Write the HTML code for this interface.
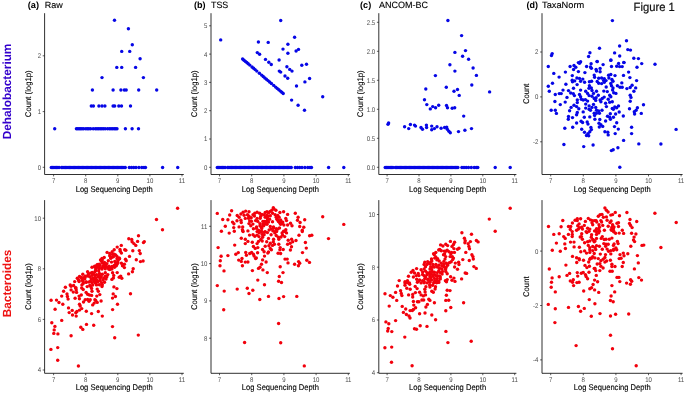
<!DOCTYPE html>
<html lang="en">
<head>
<meta charset="utf-8">
<title>Figure 1</title>
<style>
html,body{margin:0;padding:0;background:#fff;}
svg{display:block;}
text{font-family:"Liberation Sans",Arial,Helvetica,sans-serif;text-rendering:geometricPrecision;}
.tk{font-size:6.8px;fill:#4d4d4d;}
.at{font-size:8.2px;fill:#000;stroke:#000;stroke-width:0.12px;}
.tb{font-size:9.1px;font-weight:bold;fill:#000;}
.tn{font-size:9.1px;fill:#000;stroke:#000;stroke-width:0.12px;}
.fig{font-size:11.9px;fill:#111;stroke:#111;stroke-width:0.2px;}
.rl{font-size:11.8px;font-weight:bold;}
</style>
</head>
<body>
<svg width="685" height="395" viewBox="0 0 685 395">
<rect width="685" height="395" fill="#ffffff"/>
<g>
<path d="M44.6 13.2V174.5H183.8" fill="none" stroke="#1a1a1a" stroke-width="0.9"/>
<path d="M53.6 174.5v1.9" stroke="#1a1a1a" stroke-width="0.7"/>
<text transform="translate(53.6 182.8) scale(0.89 1)" class="tk" text-anchor="middle">7</text>
<path d="M85.7 174.5v1.9" stroke="#1a1a1a" stroke-width="0.7"/>
<text transform="translate(85.7 182.8) scale(0.89 1)" class="tk" text-anchor="middle">8</text>
<path d="M117.8 174.5v1.9" stroke="#1a1a1a" stroke-width="0.7"/>
<text transform="translate(117.8 182.8) scale(0.89 1)" class="tk" text-anchor="middle">9</text>
<path d="M149.9 174.5v1.9" stroke="#1a1a1a" stroke-width="0.7"/>
<text transform="translate(149.9 182.8) scale(0.89 1)" class="tk" text-anchor="middle">10</text>
<path d="M182.0 174.5v1.9" stroke="#1a1a1a" stroke-width="0.7"/>
<text transform="translate(182.0 182.8) scale(0.89 1)" class="tk" text-anchor="middle">11</text>
<path d="M44.6 167.3h-1.9" stroke="#1a1a1a" stroke-width="0.7"/>
<text transform="translate(41.0 169.7) scale(0.89 1)" class="tk" text-anchor="end">0</text>
<path d="M44.6 111.6h-1.9" stroke="#1a1a1a" stroke-width="0.7"/>
<text transform="translate(41.0 114.0) scale(0.89 1)" class="tk" text-anchor="end">1</text>
<path d="M44.6 55.8h-1.9" stroke="#1a1a1a" stroke-width="0.7"/>
<text transform="translate(41.0 58.2) scale(0.89 1)" class="tk" text-anchor="end">2</text>
<text transform="translate(114.2 191.5) scale(0.925 1)" class="at" text-anchor="middle">Log Sequencing Depth</text>
<text transform="translate(31.0 93.8) rotate(-90) scale(0.943 1)" class="at" text-anchor="middle">Count (log1p)</text>
<path d="M211.0 13.2V174.5H349.9" fill="none" stroke="#1a1a1a" stroke-width="0.9"/>
<path d="M219.5 174.5v1.9" stroke="#1a1a1a" stroke-width="0.7"/>
<text transform="translate(219.5 182.8) scale(0.89 1)" class="tk" text-anchor="middle">7</text>
<path d="M251.7 174.5v1.9" stroke="#1a1a1a" stroke-width="0.7"/>
<text transform="translate(251.7 182.8) scale(0.89 1)" class="tk" text-anchor="middle">8</text>
<path d="M283.9 174.5v1.9" stroke="#1a1a1a" stroke-width="0.7"/>
<text transform="translate(283.9 182.8) scale(0.89 1)" class="tk" text-anchor="middle">9</text>
<path d="M316.1 174.5v1.9" stroke="#1a1a1a" stroke-width="0.7"/>
<text transform="translate(316.1 182.8) scale(0.89 1)" class="tk" text-anchor="middle">10</text>
<path d="M348.3 174.5v1.9" stroke="#1a1a1a" stroke-width="0.7"/>
<text transform="translate(348.3 182.8) scale(0.89 1)" class="tk" text-anchor="middle">11</text>
<path d="M211.0 167.3h-1.9" stroke="#1a1a1a" stroke-width="0.7"/>
<text transform="translate(207.4 169.7) scale(0.89 1)" class="tk" text-anchor="end">0</text>
<path d="M211.0 139.0h-1.9" stroke="#1a1a1a" stroke-width="0.7"/>
<text transform="translate(207.4 141.4) scale(0.89 1)" class="tk" text-anchor="end">1</text>
<path d="M211.0 110.7h-1.9" stroke="#1a1a1a" stroke-width="0.7"/>
<text transform="translate(207.4 113.1) scale(0.89 1)" class="tk" text-anchor="end">2</text>
<path d="M211.0 82.4h-1.9" stroke="#1a1a1a" stroke-width="0.7"/>
<text transform="translate(207.4 84.8) scale(0.89 1)" class="tk" text-anchor="end">3</text>
<path d="M211.0 54.1h-1.9" stroke="#1a1a1a" stroke-width="0.7"/>
<text transform="translate(207.4 56.5) scale(0.89 1)" class="tk" text-anchor="end">4</text>
<path d="M211.0 25.8h-1.9" stroke="#1a1a1a" stroke-width="0.7"/>
<text transform="translate(207.4 28.2) scale(0.89 1)" class="tk" text-anchor="end">5</text>
<text transform="translate(280.4 191.5) scale(0.925 1)" class="at" text-anchor="middle">Log Sequencing Depth</text>
<text transform="translate(197.2 93.8) rotate(-90) scale(0.943 1)" class="at" text-anchor="middle">Count (log1p)</text>
<path d="M378.8 13.2V174.5H516.4" fill="none" stroke="#1a1a1a" stroke-width="0.9"/>
<path d="M387.1 174.5v1.9" stroke="#1a1a1a" stroke-width="0.7"/>
<text transform="translate(387.1 182.8) scale(0.89 1)" class="tk" text-anchor="middle">7</text>
<path d="M419.0 174.5v1.9" stroke="#1a1a1a" stroke-width="0.7"/>
<text transform="translate(419.0 182.8) scale(0.89 1)" class="tk" text-anchor="middle">8</text>
<path d="M450.9 174.5v1.9" stroke="#1a1a1a" stroke-width="0.7"/>
<text transform="translate(450.9 182.8) scale(0.89 1)" class="tk" text-anchor="middle">9</text>
<path d="M482.8 174.5v1.9" stroke="#1a1a1a" stroke-width="0.7"/>
<text transform="translate(482.8 182.8) scale(0.89 1)" class="tk" text-anchor="middle">10</text>
<path d="M514.7 174.5v1.9" stroke="#1a1a1a" stroke-width="0.7"/>
<text transform="translate(514.7 182.8) scale(0.89 1)" class="tk" text-anchor="middle">11</text>
<path d="M378.8 167.3h-1.9" stroke="#1a1a1a" stroke-width="0.7"/>
<text transform="translate(375.2 169.7) scale(0.89 1)" class="tk" text-anchor="end">0.0</text>
<path d="M378.8 138.3h-1.9" stroke="#1a1a1a" stroke-width="0.7"/>
<text transform="translate(375.2 140.7) scale(0.89 1)" class="tk" text-anchor="end">0.5</text>
<path d="M378.8 109.3h-1.9" stroke="#1a1a1a" stroke-width="0.7"/>
<text transform="translate(375.2 111.7) scale(0.89 1)" class="tk" text-anchor="end">1.0</text>
<path d="M378.8 80.3h-1.9" stroke="#1a1a1a" stroke-width="0.7"/>
<text transform="translate(375.2 82.7) scale(0.89 1)" class="tk" text-anchor="end">1.5</text>
<path d="M378.8 51.3h-1.9" stroke="#1a1a1a" stroke-width="0.7"/>
<text transform="translate(375.2 53.7) scale(0.89 1)" class="tk" text-anchor="end">2.0</text>
<path d="M378.8 22.3h-1.9" stroke="#1a1a1a" stroke-width="0.7"/>
<text transform="translate(375.2 24.7) scale(0.89 1)" class="tk" text-anchor="end">2.5</text>
<text transform="translate(447.6 191.5) scale(0.925 1)" class="at" text-anchor="middle">Log Sequencing Depth</text>
<text transform="translate(363.2 93.8) rotate(-90) scale(0.943 1)" class="at" text-anchor="middle">Count (log1p)</text>
<path d="M542.0 13.2V174.5H682.6" fill="none" stroke="#1a1a1a" stroke-width="0.9"/>
<path d="M550.7 174.5v1.9" stroke="#1a1a1a" stroke-width="0.7"/>
<text transform="translate(550.7 182.8) scale(0.89 1)" class="tk" text-anchor="middle">7</text>
<path d="M583.3 174.5v1.9" stroke="#1a1a1a" stroke-width="0.7"/>
<text transform="translate(583.3 182.8) scale(0.89 1)" class="tk" text-anchor="middle">8</text>
<path d="M615.9 174.5v1.9" stroke="#1a1a1a" stroke-width="0.7"/>
<text transform="translate(615.9 182.8) scale(0.89 1)" class="tk" text-anchor="middle">9</text>
<path d="M648.5 174.5v1.9" stroke="#1a1a1a" stroke-width="0.7"/>
<text transform="translate(648.5 182.8) scale(0.89 1)" class="tk" text-anchor="middle">10</text>
<path d="M681.1 174.5v1.9" stroke="#1a1a1a" stroke-width="0.7"/>
<text transform="translate(681.1 182.8) scale(0.89 1)" class="tk" text-anchor="middle">11</text>
<path d="M542.0 141.8h-1.9" stroke="#1a1a1a" stroke-width="0.7"/>
<text transform="translate(538.4 144.2) scale(0.89 1)" class="tk" text-anchor="end">-2</text>
<path d="M542.0 96.9h-1.9" stroke="#1a1a1a" stroke-width="0.7"/>
<text transform="translate(538.4 99.3) scale(0.89 1)" class="tk" text-anchor="end">0</text>
<path d="M542.0 52.0h-1.9" stroke="#1a1a1a" stroke-width="0.7"/>
<text transform="translate(538.4 54.4) scale(0.89 1)" class="tk" text-anchor="end">2</text>
<text transform="translate(612.3 191.5) scale(0.925 1)" class="at" text-anchor="middle">Log Sequencing Depth</text>
<text transform="translate(529.4 93.8) rotate(-90) scale(0.943 1)" class="at" text-anchor="middle">Count</text>
<path d="M44.6 200.1V373.3H183.8" fill="none" stroke="#1a1a1a" stroke-width="0.9"/>
<path d="M53.6 373.3v1.9" stroke="#1a1a1a" stroke-width="0.7"/>
<text transform="translate(53.6 381.6) scale(0.89 1)" class="tk" text-anchor="middle">7</text>
<path d="M85.7 373.3v1.9" stroke="#1a1a1a" stroke-width="0.7"/>
<text transform="translate(85.7 381.6) scale(0.89 1)" class="tk" text-anchor="middle">8</text>
<path d="M117.8 373.3v1.9" stroke="#1a1a1a" stroke-width="0.7"/>
<text transform="translate(117.8 381.6) scale(0.89 1)" class="tk" text-anchor="middle">9</text>
<path d="M149.9 373.3v1.9" stroke="#1a1a1a" stroke-width="0.7"/>
<text transform="translate(149.9 381.6) scale(0.89 1)" class="tk" text-anchor="middle">10</text>
<path d="M182.0 373.3v1.9" stroke="#1a1a1a" stroke-width="0.7"/>
<text transform="translate(182.0 381.6) scale(0.89 1)" class="tk" text-anchor="middle">11</text>
<path d="M44.6 370.0h-1.9" stroke="#1a1a1a" stroke-width="0.7"/>
<text transform="translate(41.0 372.4) scale(0.89 1)" class="tk" text-anchor="end">4</text>
<path d="M44.6 319.4h-1.9" stroke="#1a1a1a" stroke-width="0.7"/>
<text transform="translate(41.0 321.8) scale(0.89 1)" class="tk" text-anchor="end">6</text>
<path d="M44.6 268.8h-1.9" stroke="#1a1a1a" stroke-width="0.7"/>
<text transform="translate(41.0 271.2) scale(0.89 1)" class="tk" text-anchor="end">8</text>
<path d="M44.6 218.2h-1.9" stroke="#1a1a1a" stroke-width="0.7"/>
<text transform="translate(41.0 220.6) scale(0.89 1)" class="tk" text-anchor="end">10</text>
<text transform="translate(114.2 390.3) scale(0.925 1)" class="at" text-anchor="middle">Log Sequencing Depth</text>
<text transform="translate(31.0 286.7) rotate(-90) scale(0.943 1)" class="at" text-anchor="middle">Count (log1p)</text>
<path d="M211.0 200.1V373.3H349.9" fill="none" stroke="#1a1a1a" stroke-width="0.9"/>
<path d="M219.5 373.3v1.9" stroke="#1a1a1a" stroke-width="0.7"/>
<text transform="translate(219.5 381.6) scale(0.89 1)" class="tk" text-anchor="middle">7</text>
<path d="M251.7 373.3v1.9" stroke="#1a1a1a" stroke-width="0.7"/>
<text transform="translate(251.7 381.6) scale(0.89 1)" class="tk" text-anchor="middle">8</text>
<path d="M283.9 373.3v1.9" stroke="#1a1a1a" stroke-width="0.7"/>
<text transform="translate(283.9 381.6) scale(0.89 1)" class="tk" text-anchor="middle">9</text>
<path d="M316.1 373.3v1.9" stroke="#1a1a1a" stroke-width="0.7"/>
<text transform="translate(316.1 381.6) scale(0.89 1)" class="tk" text-anchor="middle">10</text>
<path d="M348.3 373.3v1.9" stroke="#1a1a1a" stroke-width="0.7"/>
<text transform="translate(348.3 381.6) scale(0.89 1)" class="tk" text-anchor="middle">11</text>
<path d="M211.0 338.2h-1.9" stroke="#1a1a1a" stroke-width="0.7"/>
<text transform="translate(207.4 340.6) scale(0.89 1)" class="tk" text-anchor="end">8</text>
<path d="M211.0 300.9h-1.9" stroke="#1a1a1a" stroke-width="0.7"/>
<text transform="translate(207.4 303.3) scale(0.89 1)" class="tk" text-anchor="end">9</text>
<path d="M211.0 263.6h-1.9" stroke="#1a1a1a" stroke-width="0.7"/>
<text transform="translate(207.4 266.0) scale(0.89 1)" class="tk" text-anchor="end">10</text>
<path d="M211.0 226.3h-1.9" stroke="#1a1a1a" stroke-width="0.7"/>
<text transform="translate(207.4 228.7) scale(0.89 1)" class="tk" text-anchor="end">11</text>
<text transform="translate(280.4 390.3) scale(0.925 1)" class="at" text-anchor="middle">Log Sequencing Depth</text>
<text transform="translate(197.2 286.7) rotate(-90) scale(0.943 1)" class="at" text-anchor="middle">Count (log1p)</text>
<path d="M378.8 200.1V373.3H516.4" fill="none" stroke="#1a1a1a" stroke-width="0.9"/>
<path d="M387.1 373.3v1.9" stroke="#1a1a1a" stroke-width="0.7"/>
<text transform="translate(387.1 381.6) scale(0.89 1)" class="tk" text-anchor="middle">7</text>
<path d="M419.0 373.3v1.9" stroke="#1a1a1a" stroke-width="0.7"/>
<text transform="translate(419.0 381.6) scale(0.89 1)" class="tk" text-anchor="middle">8</text>
<path d="M450.9 373.3v1.9" stroke="#1a1a1a" stroke-width="0.7"/>
<text transform="translate(450.9 381.6) scale(0.89 1)" class="tk" text-anchor="middle">9</text>
<path d="M482.8 373.3v1.9" stroke="#1a1a1a" stroke-width="0.7"/>
<text transform="translate(482.8 381.6) scale(0.89 1)" class="tk" text-anchor="middle">10</text>
<path d="M514.7 373.3v1.9" stroke="#1a1a1a" stroke-width="0.7"/>
<text transform="translate(514.7 381.6) scale(0.89 1)" class="tk" text-anchor="middle">11</text>
<path d="M378.8 372.7h-1.9" stroke="#1a1a1a" stroke-width="0.7"/>
<text transform="translate(375.2 375.1) scale(0.89 1)" class="tk" text-anchor="end">4</text>
<path d="M378.8 320.0h-1.9" stroke="#1a1a1a" stroke-width="0.7"/>
<text transform="translate(375.2 322.4) scale(0.89 1)" class="tk" text-anchor="end">6</text>
<path d="M378.8 267.2h-1.9" stroke="#1a1a1a" stroke-width="0.7"/>
<text transform="translate(375.2 269.6) scale(0.89 1)" class="tk" text-anchor="end">8</text>
<path d="M378.8 214.5h-1.9" stroke="#1a1a1a" stroke-width="0.7"/>
<text transform="translate(375.2 216.9) scale(0.89 1)" class="tk" text-anchor="end">10</text>
<text transform="translate(447.6 390.3) scale(0.925 1)" class="at" text-anchor="middle">Log Sequencing Depth</text>
<text transform="translate(363.2 286.7) rotate(-90) scale(0.943 1)" class="at" text-anchor="middle">Count (log1p)</text>
<path d="M542.0 200.1V373.3H682.6" fill="none" stroke="#1a1a1a" stroke-width="0.9"/>
<path d="M550.7 373.3v1.9" stroke="#1a1a1a" stroke-width="0.7"/>
<text transform="translate(550.7 381.6) scale(0.89 1)" class="tk" text-anchor="middle">7</text>
<path d="M583.3 373.3v1.9" stroke="#1a1a1a" stroke-width="0.7"/>
<text transform="translate(583.3 381.6) scale(0.89 1)" class="tk" text-anchor="middle">8</text>
<path d="M615.9 373.3v1.9" stroke="#1a1a1a" stroke-width="0.7"/>
<text transform="translate(615.9 381.6) scale(0.89 1)" class="tk" text-anchor="middle">9</text>
<path d="M648.5 373.3v1.9" stroke="#1a1a1a" stroke-width="0.7"/>
<text transform="translate(648.5 381.6) scale(0.89 1)" class="tk" text-anchor="middle">10</text>
<path d="M681.1 373.3v1.9" stroke="#1a1a1a" stroke-width="0.7"/>
<text transform="translate(681.1 381.6) scale(0.89 1)" class="tk" text-anchor="middle">11</text>
<path d="M542.0 359.9h-1.9" stroke="#1a1a1a" stroke-width="0.7"/>
<text transform="translate(538.4 362.3) scale(0.89 1)" class="tk" text-anchor="end">-4</text>
<path d="M542.0 305.5h-1.9" stroke="#1a1a1a" stroke-width="0.7"/>
<text transform="translate(538.4 307.9) scale(0.89 1)" class="tk" text-anchor="end">-2</text>
<path d="M542.0 251.1h-1.9" stroke="#1a1a1a" stroke-width="0.7"/>
<text transform="translate(538.4 253.5) scale(0.89 1)" class="tk" text-anchor="end">0</text>
<text transform="translate(612.3 390.3) scale(0.925 1)" class="at" text-anchor="middle">Log Sequencing Depth</text>
<text transform="translate(529.4 286.7) rotate(-90) scale(0.943 1)" class="at" text-anchor="middle">Count</text>
<text x="27.8" y="7.5" class="tb" textLength="11.3" lengthAdjust="spacingAndGlyphs">(a)</text>
<text x="44.8" y="7.5" class="tn" textLength="18.0" lengthAdjust="spacingAndGlyphs">Raw</text>
<text x="194.0" y="7.5" class="tb" textLength="11.6" lengthAdjust="spacingAndGlyphs">(b)</text>
<text x="211.0" y="7.5" class="tn" textLength="17.3" lengthAdjust="spacingAndGlyphs">TSS</text>
<text x="360.0" y="7.5" class="tb" textLength="11.2" lengthAdjust="spacingAndGlyphs">(c)</text>
<text x="378.9" y="7.5" class="tn" textLength="49.2" lengthAdjust="spacingAndGlyphs">ANCOM-BC</text>
<text x="526.6" y="7.5" class="tb" textLength="11.5" lengthAdjust="spacingAndGlyphs">(d)</text>
<text x="542.0" y="7.5" class="tn" textLength="42.2" lengthAdjust="spacingAndGlyphs">TaxaNorm</text>
<text x="633.6" y="11.1" class="fig" textLength="41.2" lengthAdjust="spacingAndGlyphs">Figure 1</text>
<text transform="translate(10.7 91.5) rotate(-90)" class="rl" fill="#3300cc" text-anchor="middle">Dehalobacterium</text>
<text transform="translate(10.7 283.5) rotate(-90)" class="rl" fill="#ee1111" text-anchor="middle">Bacteroides</text>
<g fill="#0606e6"><circle cx="114.5" cy="20.2" r="1.7"/><circle cx="128.4" cy="28.8" r="1.7"/><circle cx="132.3" cy="44.8" r="1.7"/><circle cx="121.7" cy="51.4" r="1.7"/><circle cx="129.7" cy="51.4" r="1.7"/><circle cx="140.1" cy="58.8" r="1.7"/><circle cx="116.8" cy="67.4" r="1.7"/><circle cx="121.7" cy="67.4" r="1.7"/><circle cx="135.6" cy="67.4" r="1.7"/><circle cx="102.0" cy="77.6" r="1.7"/><circle cx="143.4" cy="77.6" r="1.7"/><circle cx="92.4" cy="90.0" r="1.7"/><circle cx="113.1" cy="90.0" r="1.7"/><circle cx="120.9" cy="90.0" r="1.7"/><circle cx="124.3" cy="90.0" r="1.7"/><circle cx="126.2" cy="90.0" r="1.7"/><circle cx="138.7" cy="90.0" r="1.7"/><circle cx="156.7" cy="90.0" r="1.7"/><circle cx="91.3" cy="106.0" r="1.7"/><circle cx="93.4" cy="106.0" r="1.7"/><circle cx="98.9" cy="106.0" r="1.7"/><circle cx="102.0" cy="106.0" r="1.7"/><circle cx="104.9" cy="106.0" r="1.7"/><circle cx="113.1" cy="106.0" r="1.7"/><circle cx="114.7" cy="106.0" r="1.7"/><circle cx="118.8" cy="106.0" r="1.7"/><circle cx="121.5" cy="106.0" r="1.7"/><circle cx="130.5" cy="106.0" r="1.7"/><circle cx="54.7" cy="128.7" r="1.7"/><circle cx="76.4" cy="128.7" r="1.7"/><circle cx="77.8" cy="128.7" r="1.7"/><circle cx="79.2" cy="128.7" r="1.7"/><circle cx="80.6" cy="128.7" r="1.7"/><circle cx="82.0" cy="128.7" r="1.7"/><circle cx="83.6" cy="128.7" r="1.7"/><circle cx="85.8" cy="128.7" r="1.7"/><circle cx="87.4" cy="128.7" r="1.7"/><circle cx="88.9" cy="128.7" r="1.7"/><circle cx="90.6" cy="128.7" r="1.7"/><circle cx="93.2" cy="128.7" r="1.7"/><circle cx="95.4" cy="128.7" r="1.7"/><circle cx="97.0" cy="128.7" r="1.7"/><circle cx="98.6" cy="128.7" r="1.7"/><circle cx="100.2" cy="128.7" r="1.7"/><circle cx="101.8" cy="128.7" r="1.7"/><circle cx="103.4" cy="128.7" r="1.7"/><circle cx="105.2" cy="128.7" r="1.7"/><circle cx="107.5" cy="128.7" r="1.7"/><circle cx="109.4" cy="128.7" r="1.7"/><circle cx="111.0" cy="128.7" r="1.7"/><circle cx="112.6" cy="128.7" r="1.7"/><circle cx="114.2" cy="128.7" r="1.7"/><circle cx="115.6" cy="128.7" r="1.7"/><circle cx="117.0" cy="128.7" r="1.7"/><circle cx="125.4" cy="128.7" r="1.7"/><circle cx="132.1" cy="128.7" r="1.7"/><circle cx="138.5" cy="128.7" r="1.7"/><circle cx="51.3" cy="167.5" r="1.7"/><circle cx="52.6" cy="167.5" r="1.7"/><circle cx="53.9" cy="167.5" r="1.7"/><circle cx="55.2" cy="167.5" r="1.7"/><circle cx="56.5" cy="167.5" r="1.7"/><circle cx="57.8" cy="167.5" r="1.7"/><circle cx="59.1" cy="167.5" r="1.7"/><circle cx="61.6" cy="167.5" r="1.7"/><circle cx="62.9" cy="167.5" r="1.7"/><circle cx="64.2" cy="167.5" r="1.7"/><circle cx="65.5" cy="167.5" r="1.7"/><circle cx="66.8" cy="167.5" r="1.7"/><circle cx="68.1" cy="167.5" r="1.7"/><circle cx="69.4" cy="167.5" r="1.7"/><circle cx="70.7" cy="167.5" r="1.7"/><circle cx="72.0" cy="167.5" r="1.7"/><circle cx="73.3" cy="167.5" r="1.7"/><circle cx="74.6" cy="167.5" r="1.7"/><circle cx="75.9" cy="167.5" r="1.7"/><circle cx="77.2" cy="167.5" r="1.7"/><circle cx="78.5" cy="167.5" r="1.7"/><circle cx="79.8" cy="167.5" r="1.7"/><circle cx="81.1" cy="167.5" r="1.7"/><circle cx="82.4" cy="167.5" r="1.7"/><circle cx="83.7" cy="167.5" r="1.7"/><circle cx="85.0" cy="167.5" r="1.7"/><circle cx="86.3" cy="167.5" r="1.7"/><circle cx="87.6" cy="167.5" r="1.7"/><circle cx="88.9" cy="167.5" r="1.7"/><circle cx="90.2" cy="167.5" r="1.7"/><circle cx="91.5" cy="167.5" r="1.7"/><circle cx="92.8" cy="167.5" r="1.7"/><circle cx="94.1" cy="167.5" r="1.7"/><circle cx="95.4" cy="167.5" r="1.7"/><circle cx="96.7" cy="167.5" r="1.7"/><circle cx="98.0" cy="167.5" r="1.7"/><circle cx="99.3" cy="167.5" r="1.7"/><circle cx="100.6" cy="167.5" r="1.7"/><circle cx="101.9" cy="167.5" r="1.7"/><circle cx="103.2" cy="167.5" r="1.7"/><circle cx="104.5" cy="167.5" r="1.7"/><circle cx="105.8" cy="167.5" r="1.7"/><circle cx="107.1" cy="167.5" r="1.7"/><circle cx="108.4" cy="167.5" r="1.7"/><circle cx="109.7" cy="167.5" r="1.7"/><circle cx="111.0" cy="167.5" r="1.7"/><circle cx="112.3" cy="167.5" r="1.7"/><circle cx="113.6" cy="167.5" r="1.7"/><circle cx="114.9" cy="167.5" r="1.7"/><circle cx="116.2" cy="167.5" r="1.7"/><circle cx="117.5" cy="167.5" r="1.7"/><circle cx="118.8" cy="167.5" r="1.7"/><circle cx="120.1" cy="167.5" r="1.7"/><circle cx="121.4" cy="167.5" r="1.7"/><circle cx="122.7" cy="167.5" r="1.7"/><circle cx="124.0" cy="167.5" r="1.7"/><circle cx="125.3" cy="167.5" r="1.7"/><circle cx="129.3" cy="167.5" r="1.7"/><circle cx="131.5" cy="167.5" r="1.7"/><circle cx="133.7" cy="167.5" r="1.7"/><circle cx="136.0" cy="167.5" r="1.7"/><circle cx="138.9" cy="167.5" r="1.7"/><circle cx="141.8" cy="167.5" r="1.7"/><circle cx="144.0" cy="167.5" r="1.7"/><circle cx="145.5" cy="167.5" r="1.7"/><circle cx="162.6" cy="167.5" r="1.7"/><circle cx="177.7" cy="167.5" r="1.7"/></g>
<g fill="#0606e6"><circle cx="280.7" cy="20.5" r="1.7"/><circle cx="220.7" cy="39.9" r="1.7"/><circle cx="294.6" cy="37.3" r="1.7"/><circle cx="258.4" cy="42.0" r="1.7"/><circle cx="268.2" cy="42.4" r="1.7"/><circle cx="287.9" cy="44.2" r="1.7"/><circle cx="283.0" cy="49.1" r="1.7"/><circle cx="298.5" cy="49.4" r="1.7"/><circle cx="296.1" cy="51.0" r="1.7"/><circle cx="287.9" cy="53.2" r="1.7"/><circle cx="257.3" cy="52.6" r="1.7"/><circle cx="259.6" cy="54.3" r="1.7"/><circle cx="279.1" cy="60.0" r="1.7"/><circle cx="265.5" cy="59.4" r="1.7"/><circle cx="268.8" cy="62.3" r="1.7"/><circle cx="271.3" cy="64.5" r="1.7"/><circle cx="301.8" cy="65.3" r="1.7"/><circle cx="306.5" cy="64.3" r="1.7"/><circle cx="286.9" cy="66.8" r="1.7"/><circle cx="289.7" cy="69.4" r="1.7"/><circle cx="292.0" cy="71.1" r="1.7"/><circle cx="279.3" cy="71.1" r="1.7"/><circle cx="280.7" cy="72.1" r="1.7"/><circle cx="285.0" cy="76.0" r="1.7"/><circle cx="287.7" cy="78.3" r="1.7"/><circle cx="309.6" cy="78.5" r="1.7"/><circle cx="304.9" cy="81.9" r="1.7"/><circle cx="296.5" cy="86.0" r="1.7"/><circle cx="291.6" cy="100.1" r="1.7"/><circle cx="298.1" cy="105.2" r="1.7"/><circle cx="304.5" cy="110.3" r="1.7"/><circle cx="322.7" cy="96.8" r="1.7"/><circle cx="242.6" cy="59.0" r="1.7"/><circle cx="244.0" cy="60.2" r="1.7"/><circle cx="245.4" cy="61.4" r="1.7"/><circle cx="246.8" cy="62.5" r="1.7"/><circle cx="248.2" cy="63.7" r="1.7"/><circle cx="249.8" cy="65.1" r="1.7"/><circle cx="252.0" cy="67.0" r="1.7"/><circle cx="253.6" cy="68.3" r="1.7"/><circle cx="255.1" cy="69.6" r="1.7"/><circle cx="256.8" cy="71.1" r="1.7"/><circle cx="259.4" cy="73.3" r="1.7"/><circle cx="261.6" cy="75.1" r="1.7"/><circle cx="263.2" cy="76.5" r="1.7"/><circle cx="264.8" cy="77.9" r="1.7"/><circle cx="266.4" cy="79.2" r="1.7"/><circle cx="268.0" cy="80.6" r="1.7"/><circle cx="269.6" cy="82.0" r="1.7"/><circle cx="271.4" cy="83.5" r="1.7"/><circle cx="273.7" cy="85.4" r="1.7"/><circle cx="275.6" cy="87.1" r="1.7"/><circle cx="277.2" cy="88.4" r="1.7"/><circle cx="278.8" cy="89.8" r="1.7"/><circle cx="280.4" cy="91.1" r="1.7"/><circle cx="281.8" cy="92.3" r="1.7"/><circle cx="283.2" cy="93.5" r="1.7"/><circle cx="217.3" cy="167.5" r="1.7"/><circle cx="218.6" cy="167.5" r="1.7"/><circle cx="219.9" cy="167.5" r="1.7"/><circle cx="221.2" cy="167.5" r="1.7"/><circle cx="222.5" cy="167.5" r="1.7"/><circle cx="223.8" cy="167.5" r="1.7"/><circle cx="225.1" cy="167.5" r="1.7"/><circle cx="227.6" cy="167.5" r="1.7"/><circle cx="228.9" cy="167.5" r="1.7"/><circle cx="230.2" cy="167.5" r="1.7"/><circle cx="231.5" cy="167.5" r="1.7"/><circle cx="232.8" cy="167.5" r="1.7"/><circle cx="234.1" cy="167.5" r="1.7"/><circle cx="235.4" cy="167.5" r="1.7"/><circle cx="236.7" cy="167.5" r="1.7"/><circle cx="238.0" cy="167.5" r="1.7"/><circle cx="239.3" cy="167.5" r="1.7"/><circle cx="240.6" cy="167.5" r="1.7"/><circle cx="241.9" cy="167.5" r="1.7"/><circle cx="243.2" cy="167.5" r="1.7"/><circle cx="244.5" cy="167.5" r="1.7"/><circle cx="245.8" cy="167.5" r="1.7"/><circle cx="247.1" cy="167.5" r="1.7"/><circle cx="248.4" cy="167.5" r="1.7"/><circle cx="249.7" cy="167.5" r="1.7"/><circle cx="251.0" cy="167.5" r="1.7"/><circle cx="252.3" cy="167.5" r="1.7"/><circle cx="253.6" cy="167.5" r="1.7"/><circle cx="254.9" cy="167.5" r="1.7"/><circle cx="256.2" cy="167.5" r="1.7"/><circle cx="257.5" cy="167.5" r="1.7"/><circle cx="258.8" cy="167.5" r="1.7"/><circle cx="260.1" cy="167.5" r="1.7"/><circle cx="261.4" cy="167.5" r="1.7"/><circle cx="262.7" cy="167.5" r="1.7"/><circle cx="264.0" cy="167.5" r="1.7"/><circle cx="265.3" cy="167.5" r="1.7"/><circle cx="266.6" cy="167.5" r="1.7"/><circle cx="267.9" cy="167.5" r="1.7"/><circle cx="269.2" cy="167.5" r="1.7"/><circle cx="270.5" cy="167.5" r="1.7"/><circle cx="271.8" cy="167.5" r="1.7"/><circle cx="273.1" cy="167.5" r="1.7"/><circle cx="274.4" cy="167.5" r="1.7"/><circle cx="275.7" cy="167.5" r="1.7"/><circle cx="277.0" cy="167.5" r="1.7"/><circle cx="278.3" cy="167.5" r="1.7"/><circle cx="279.6" cy="167.5" r="1.7"/><circle cx="280.9" cy="167.5" r="1.7"/><circle cx="282.2" cy="167.5" r="1.7"/><circle cx="283.5" cy="167.5" r="1.7"/><circle cx="284.8" cy="167.5" r="1.7"/><circle cx="286.1" cy="167.5" r="1.7"/><circle cx="287.4" cy="167.5" r="1.7"/><circle cx="288.7" cy="167.5" r="1.7"/><circle cx="290.0" cy="167.5" r="1.7"/><circle cx="291.3" cy="167.5" r="1.7"/><circle cx="295.3" cy="167.5" r="1.7"/><circle cx="297.5" cy="167.5" r="1.7"/><circle cx="299.7" cy="167.5" r="1.7"/><circle cx="302.0" cy="167.5" r="1.7"/><circle cx="304.9" cy="167.5" r="1.7"/><circle cx="307.8" cy="167.5" r="1.7"/><circle cx="310.0" cy="167.5" r="1.7"/><circle cx="311.5" cy="167.5" r="1.7"/><circle cx="328.6" cy="167.5" r="1.7"/><circle cx="343.8" cy="167.5" r="1.7"/></g>
<g fill="#0606e6"><circle cx="447.9" cy="20.5" r="1.7"/><circle cx="461.6" cy="35.6" r="1.7"/><circle cx="465.5" cy="50.6" r="1.7"/><circle cx="454.9" cy="52.4" r="1.7"/><circle cx="462.6" cy="56.3" r="1.7"/><circle cx="468.6" cy="59.2" r="1.7"/><circle cx="449.9" cy="64.7" r="1.7"/><circle cx="473.1" cy="68.0" r="1.7"/><circle cx="454.9" cy="71.1" r="1.7"/><circle cx="435.4" cy="75.6" r="1.7"/><circle cx="476.4" cy="75.4" r="1.7"/><circle cx="471.8" cy="85.0" r="1.7"/><circle cx="446.3" cy="87.3" r="1.7"/><circle cx="425.8" cy="89.0" r="1.7"/><circle cx="457.5" cy="89.5" r="1.7"/><circle cx="454.0" cy="91.2" r="1.7"/><circle cx="489.6" cy="91.9" r="1.7"/><circle cx="459.2" cy="95.4" r="1.7"/><circle cx="424.5" cy="99.7" r="1.7"/><circle cx="426.8" cy="104.6" r="1.7"/><circle cx="430.3" cy="108.9" r="1.7"/><circle cx="432.7" cy="106.6" r="1.7"/><circle cx="435.6" cy="107.7" r="1.7"/><circle cx="438.7" cy="105.2" r="1.7"/><circle cx="446.5" cy="105.4" r="1.7"/><circle cx="447.5" cy="107.7" r="1.7"/><circle cx="452.2" cy="108.3" r="1.7"/><circle cx="454.7" cy="107.7" r="1.7"/><circle cx="463.7" cy="116.1" r="1.7"/><circle cx="388.0" cy="124.2" r="1.7"/><circle cx="388.6" cy="123.0" r="1.7"/><circle cx="404.6" cy="126.7" r="1.7"/><circle cx="408.7" cy="128.6" r="1.7"/><circle cx="410.4" cy="124.5" r="1.7"/><circle cx="414.5" cy="125.1" r="1.7"/><circle cx="415.5" cy="126.1" r="1.7"/><circle cx="421.0" cy="127.5" r="1.7"/><circle cx="422.5" cy="129.2" r="1.7"/><circle cx="426.4" cy="125.1" r="1.7"/><circle cx="426.6" cy="127.5" r="1.7"/><circle cx="431.7" cy="126.1" r="1.7"/><circle cx="431.7" cy="129.8" r="1.7"/><circle cx="434.4" cy="128.6" r="1.7"/><circle cx="437.0" cy="126.7" r="1.7"/><circle cx="441.1" cy="128.2" r="1.7"/><circle cx="444.6" cy="127.5" r="1.7"/><circle cx="446.7" cy="127.1" r="1.7"/><circle cx="447.3" cy="129.2" r="1.7"/><circle cx="448.9" cy="131.2" r="1.7"/><circle cx="450.3" cy="132.7" r="1.7"/><circle cx="458.5" cy="131.6" r="1.7"/><circle cx="464.9" cy="130.2" r="1.7"/><circle cx="471.5" cy="128.6" r="1.7"/><circle cx="385.2" cy="167.5" r="1.7"/><circle cx="386.5" cy="167.5" r="1.7"/><circle cx="387.8" cy="167.5" r="1.7"/><circle cx="389.0" cy="167.5" r="1.7"/><circle cx="390.3" cy="167.5" r="1.7"/><circle cx="391.6" cy="167.5" r="1.7"/><circle cx="392.9" cy="167.5" r="1.7"/><circle cx="395.3" cy="167.5" r="1.7"/><circle cx="396.6" cy="167.5" r="1.7"/><circle cx="397.9" cy="167.5" r="1.7"/><circle cx="399.2" cy="167.5" r="1.7"/><circle cx="400.4" cy="167.5" r="1.7"/><circle cx="401.7" cy="167.5" r="1.7"/><circle cx="403.0" cy="167.5" r="1.7"/><circle cx="404.3" cy="167.5" r="1.7"/><circle cx="405.6" cy="167.5" r="1.7"/><circle cx="406.8" cy="167.5" r="1.7"/><circle cx="408.1" cy="167.5" r="1.7"/><circle cx="409.4" cy="167.5" r="1.7"/><circle cx="410.7" cy="167.5" r="1.7"/><circle cx="411.9" cy="167.5" r="1.7"/><circle cx="413.2" cy="167.5" r="1.7"/><circle cx="414.5" cy="167.5" r="1.7"/><circle cx="415.8" cy="167.5" r="1.7"/><circle cx="417.1" cy="167.5" r="1.7"/><circle cx="418.3" cy="167.5" r="1.7"/><circle cx="419.6" cy="167.5" r="1.7"/><circle cx="420.9" cy="167.5" r="1.7"/><circle cx="422.2" cy="167.5" r="1.7"/><circle cx="423.4" cy="167.5" r="1.7"/><circle cx="424.7" cy="167.5" r="1.7"/><circle cx="426.0" cy="167.5" r="1.7"/><circle cx="427.3" cy="167.5" r="1.7"/><circle cx="428.6" cy="167.5" r="1.7"/><circle cx="429.8" cy="167.5" r="1.7"/><circle cx="431.1" cy="167.5" r="1.7"/><circle cx="432.4" cy="167.5" r="1.7"/><circle cx="433.7" cy="167.5" r="1.7"/><circle cx="434.9" cy="167.5" r="1.7"/><circle cx="436.2" cy="167.5" r="1.7"/><circle cx="437.5" cy="167.5" r="1.7"/><circle cx="438.8" cy="167.5" r="1.7"/><circle cx="440.1" cy="167.5" r="1.7"/><circle cx="441.3" cy="167.5" r="1.7"/><circle cx="442.6" cy="167.5" r="1.7"/><circle cx="443.9" cy="167.5" r="1.7"/><circle cx="445.2" cy="167.5" r="1.7"/><circle cx="446.4" cy="167.5" r="1.7"/><circle cx="447.7" cy="167.5" r="1.7"/><circle cx="449.0" cy="167.5" r="1.7"/><circle cx="450.3" cy="167.5" r="1.7"/><circle cx="451.6" cy="167.5" r="1.7"/><circle cx="452.8" cy="167.5" r="1.7"/><circle cx="454.1" cy="167.5" r="1.7"/><circle cx="455.4" cy="167.5" r="1.7"/><circle cx="456.7" cy="167.5" r="1.7"/><circle cx="457.9" cy="167.5" r="1.7"/><circle cx="461.9" cy="167.5" r="1.7"/><circle cx="464.0" cy="167.5" r="1.7"/><circle cx="466.2" cy="167.5" r="1.7"/><circle cx="468.5" cy="167.5" r="1.7"/><circle cx="471.3" cy="167.5" r="1.7"/><circle cx="474.2" cy="167.5" r="1.7"/><circle cx="476.3" cy="167.5" r="1.7"/><circle cx="477.8" cy="167.5" r="1.7"/><circle cx="495.2" cy="167.5" r="1.7"/><circle cx="510.2" cy="167.5" r="1.7"/></g>
<g fill="#0606e6"><circle cx="612.4" cy="20.6" r="1.7"/><circle cx="626.5" cy="40.7" r="1.7"/><circle cx="619.6" cy="46.0" r="1.7"/><circle cx="599.5" cy="48.2" r="1.7"/><circle cx="627.8" cy="49.6" r="1.7"/><circle cx="630.5" cy="50.1" r="1.7"/><circle cx="589.9" cy="52.7" r="1.7"/><circle cx="614.6" cy="52.9" r="1.7"/><circle cx="552.2" cy="53.6" r="1.7"/><circle cx="551.5" cy="55.5" r="1.7"/><circle cx="588.6" cy="56.5" r="1.7"/><circle cx="619.7" cy="56.0" r="1.7"/><circle cx="633.8" cy="58.2" r="1.7"/><circle cx="638.4" cy="58.6" r="1.7"/><circle cx="610.9" cy="59.9" r="1.7"/><circle cx="597.1" cy="61.5" r="1.7"/><circle cx="623.8" cy="62.4" r="1.7"/><circle cx="603.1" cy="64.6" r="1.7"/><circle cx="641.7" cy="63.6" r="1.7"/><circle cx="655.0" cy="64.2" r="1.7"/><circle cx="548.3" cy="66.5" r="1.7"/><circle cx="570.1" cy="66.5" r="1.7"/><circle cx="574.0" cy="65.5" r="1.7"/><circle cx="575.8" cy="67.3" r="1.7"/><circle cx="573.6" cy="69.5" r="1.7"/><circle cx="578.4" cy="62.6" r="1.7"/><circle cx="580.6" cy="61.8" r="1.7"/><circle cx="579.5" cy="63.3" r="1.7"/><circle cx="586.6" cy="66.5" r="1.7"/><circle cx="591.1" cy="63.7" r="1.7"/><circle cx="590.5" cy="67.0" r="1.7"/><circle cx="591.4" cy="68.2" r="1.7"/><circle cx="578.4" cy="71.6" r="1.7"/><circle cx="584.9" cy="72.6" r="1.7"/><circle cx="565.4" cy="72.1" r="1.7"/><circle cx="553.8" cy="73.4" r="1.7"/><circle cx="572.3" cy="75.6" r="1.7"/><circle cx="559.1" cy="77.1" r="1.7"/><circle cx="594.2" cy="75.1" r="1.7"/><circle cx="594.6" cy="77.3" r="1.7"/><circle cx="576.9" cy="78.0" r="1.7"/><circle cx="579.5" cy="78.4" r="1.7"/><circle cx="582.8" cy="79.1" r="1.7"/><circle cx="572.2" cy="80.2" r="1.7"/><circle cx="572.5" cy="81.7" r="1.7"/><circle cx="574.7" cy="80.9" r="1.7"/><circle cx="580.6" cy="81.3" r="1.7"/><circle cx="584.6" cy="82.2" r="1.7"/><circle cx="589.4" cy="81.8" r="1.7"/><circle cx="591.6" cy="81.3" r="1.7"/><circle cx="577.1" cy="84.6" r="1.7"/><circle cx="565.9" cy="84.2" r="1.7"/><circle cx="552.5" cy="83.3" r="1.7"/><circle cx="548.3" cy="86.3" r="1.7"/><circle cx="573.5" cy="88.3" r="1.7"/><circle cx="589.4" cy="85.7" r="1.7"/><circle cx="589.0" cy="88.3" r="1.7"/><circle cx="591.3" cy="87.9" r="1.7"/><circle cx="597.2" cy="61.6" r="1.7"/><circle cx="610.8" cy="60.4" r="1.7"/><circle cx="611.5" cy="66.5" r="1.7"/><circle cx="618.6" cy="63.5" r="1.7"/><circle cx="616.7" cy="66.2" r="1.7"/><circle cx="619.6" cy="66.6" r="1.7"/><circle cx="622.2" cy="66.6" r="1.7"/><circle cx="624.0" cy="62.6" r="1.7"/><circle cx="637.0" cy="67.3" r="1.7"/><circle cx="596.1" cy="69.5" r="1.7"/><circle cx="596.5" cy="71.0" r="1.7"/><circle cx="600.1" cy="68.4" r="1.7"/><circle cx="600.1" cy="71.7" r="1.7"/><circle cx="628.6" cy="72.1" r="1.7"/><circle cx="608.6" cy="75.3" r="1.7"/><circle cx="610.8" cy="74.5" r="1.7"/><circle cx="615.0" cy="75.6" r="1.7"/><circle cx="623.5" cy="75.4" r="1.7"/><circle cx="629.9" cy="77.6" r="1.7"/><circle cx="598.7" cy="78.3" r="1.7"/><circle cx="601.6" cy="78.0" r="1.7"/><circle cx="604.3" cy="78.6" r="1.7"/><circle cx="606.0" cy="80.6" r="1.7"/><circle cx="604.3" cy="82.2" r="1.7"/><circle cx="601.6" cy="83.6" r="1.7"/><circle cx="598.7" cy="83.2" r="1.7"/><circle cx="597.2" cy="81.5" r="1.7"/><circle cx="603.6" cy="80.5" r="1.7"/><circle cx="608.9" cy="78.0" r="1.7"/><circle cx="611.9" cy="79.5" r="1.7"/><circle cx="613.0" cy="81.3" r="1.7"/><circle cx="610.8" cy="83.5" r="1.7"/><circle cx="611.5" cy="85.7" r="1.7"/><circle cx="613.0" cy="87.9" r="1.7"/><circle cx="621.8" cy="82.9" r="1.7"/><circle cx="636.6" cy="80.6" r="1.7"/><circle cx="606.2" cy="87.0" r="1.7"/><circle cx="617.4" cy="85.7" r="1.7"/><circle cx="620.0" cy="87.2" r="1.7"/><circle cx="622.2" cy="87.2" r="1.7"/><circle cx="632.1" cy="85.3" r="1.7"/><circle cx="630.2" cy="87.5" r="1.7"/><circle cx="635.7" cy="87.9" r="1.7"/><circle cx="626.9" cy="88.6" r="1.7"/><circle cx="549.3" cy="91.2" r="1.7"/><circle cx="555.3" cy="94.5" r="1.7"/><circle cx="559.3" cy="93.6" r="1.7"/><circle cx="561.2" cy="93.6" r="1.7"/><circle cx="563.0" cy="90.1" r="1.7"/><circle cx="568.5" cy="90.6" r="1.7"/><circle cx="570.7" cy="93.0" r="1.7"/><circle cx="573.3" cy="93.6" r="1.7"/><circle cx="574.4" cy="95.6" r="1.7"/><circle cx="580.6" cy="90.1" r="1.7"/><circle cx="567.0" cy="97.4" r="1.7"/><circle cx="554.9" cy="101.5" r="1.7"/><circle cx="565.2" cy="102.1" r="1.7"/><circle cx="560.3" cy="104.6" r="1.7"/><circle cx="577.3" cy="100.0" r="1.7"/><circle cx="577.3" cy="102.6" r="1.7"/><circle cx="579.5" cy="94.5" r="1.7"/><circle cx="580.6" cy="96.7" r="1.7"/><circle cx="581.3" cy="99.3" r="1.7"/><circle cx="583.2" cy="100.0" r="1.7"/><circle cx="585.4" cy="99.6" r="1.7"/><circle cx="587.6" cy="101.1" r="1.7"/><circle cx="585.7" cy="91.2" r="1.7"/><circle cx="587.6" cy="93.4" r="1.7"/><circle cx="589.1" cy="95.6" r="1.7"/><circle cx="592.0" cy="90.5" r="1.7"/><circle cx="593.5" cy="93.4" r="1.7"/><circle cx="592.0" cy="96.3" r="1.7"/><circle cx="594.2" cy="98.5" r="1.7"/><circle cx="574.0" cy="105.2" r="1.7"/><circle cx="571.1" cy="107.4" r="1.7"/><circle cx="569.6" cy="110.7" r="1.7"/><circle cx="576.6" cy="106.6" r="1.7"/><circle cx="578.8" cy="108.8" r="1.7"/><circle cx="585.7" cy="104.1" r="1.7"/><circle cx="585.7" cy="108.1" r="1.7"/><circle cx="589.1" cy="105.9" r="1.7"/><circle cx="589.1" cy="109.2" r="1.7"/><circle cx="592.0" cy="107.4" r="1.7"/><circle cx="593.5" cy="104.4" r="1.7"/><circle cx="590.5" cy="110.3" r="1.7"/><circle cx="583.2" cy="111.9" r="1.7"/><circle cx="577.3" cy="112.5" r="1.7"/><circle cx="576.6" cy="114.7" r="1.7"/><circle cx="551.2" cy="110.3" r="1.7"/><circle cx="555.3" cy="110.3" r="1.7"/><circle cx="556.4" cy="113.4" r="1.7"/><circle cx="568.5" cy="116.5" r="1.7"/><circle cx="572.5" cy="117.6" r="1.7"/><circle cx="584.3" cy="117.3" r="1.7"/><circle cx="589.8" cy="116.9" r="1.7"/><circle cx="594.2" cy="113.2" r="1.7"/><circle cx="594.6" cy="115.4" r="1.7"/><circle cx="596.5" cy="91.2" r="1.7"/><circle cx="603.8" cy="91.1" r="1.7"/><circle cx="607.3" cy="91.6" r="1.7"/><circle cx="612.6" cy="90.1" r="1.7"/><circle cx="613.7" cy="92.7" r="1.7"/><circle cx="615.9" cy="93.4" r="1.7"/><circle cx="633.9" cy="91.3" r="1.7"/><circle cx="598.3" cy="95.2" r="1.7"/><circle cx="596.1" cy="97.8" r="1.7"/><circle cx="595.7" cy="100.4" r="1.7"/><circle cx="604.2" cy="97.1" r="1.7"/><circle cx="602.3" cy="98.5" r="1.7"/><circle cx="600.1" cy="100.0" r="1.7"/><circle cx="600.9" cy="101.8" r="1.7"/><circle cx="609.7" cy="95.2" r="1.7"/><circle cx="610.8" cy="96.7" r="1.7"/><circle cx="608.2" cy="99.3" r="1.7"/><circle cx="609.7" cy="102.2" r="1.7"/><circle cx="612.3" cy="101.8" r="1.7"/><circle cx="605.6" cy="103.3" r="1.7"/><circle cx="606.4" cy="106.6" r="1.7"/><circle cx="630.2" cy="95.2" r="1.7"/><circle cx="631.0" cy="97.4" r="1.7"/><circle cx="630.2" cy="101.3" r="1.7"/><circle cx="643.5" cy="104.8" r="1.7"/><circle cx="618.5" cy="105.9" r="1.7"/><circle cx="616.7" cy="107.7" r="1.7"/><circle cx="614.8" cy="107.0" r="1.7"/><circle cx="612.3" cy="108.5" r="1.7"/><circle cx="613.4" cy="109.2" r="1.7"/><circle cx="629.5" cy="108.7" r="1.7"/><circle cx="637.4" cy="107.7" r="1.7"/><circle cx="636.1" cy="110.3" r="1.7"/><circle cx="634.3" cy="111.8" r="1.7"/><circle cx="634.6" cy="114.0" r="1.7"/><circle cx="641.3" cy="113.4" r="1.7"/><circle cx="595.7" cy="107.4" r="1.7"/><circle cx="596.5" cy="110.3" r="1.7"/><circle cx="598.7" cy="111.0" r="1.7"/><circle cx="602.0" cy="110.3" r="1.7"/><circle cx="599.4" cy="113.2" r="1.7"/><circle cx="596.5" cy="113.2" r="1.7"/><circle cx="619.2" cy="112.0" r="1.7"/><circle cx="615.6" cy="114.0" r="1.7"/><circle cx="610.3" cy="113.8" r="1.7"/><circle cx="623.3" cy="116.0" r="1.7"/><circle cx="607.5" cy="116.3" r="1.7"/><circle cx="609.7" cy="117.3" r="1.7"/><circle cx="613.4" cy="117.3" r="1.7"/><circle cx="568.3" cy="119.3" r="1.7"/><circle cx="576.6" cy="123.0" r="1.7"/><circle cx="581.1" cy="121.3" r="1.7"/><circle cx="582.6" cy="122.5" r="1.7"/><circle cx="587.2" cy="122.0" r="1.7"/><circle cx="588.0" cy="124.1" r="1.7"/><circle cx="564.8" cy="128.3" r="1.7"/><circle cx="572.7" cy="127.2" r="1.7"/><circle cx="581.7" cy="129.2" r="1.7"/><circle cx="590.9" cy="127.4" r="1.7"/><circle cx="591.4" cy="129.6" r="1.7"/><circle cx="589.8" cy="131.8" r="1.7"/><circle cx="588.0" cy="133.6" r="1.7"/><circle cx="586.5" cy="135.5" r="1.7"/><circle cx="588.7" cy="135.7" r="1.7"/><circle cx="584.5" cy="132.3" r="1.7"/><circle cx="563.9" cy="144.5" r="1.7"/><circle cx="593.1" cy="145.0" r="1.7"/><circle cx="594.9" cy="119.3" r="1.7"/><circle cx="599.8" cy="119.5" r="1.7"/><circle cx="610.4" cy="119.3" r="1.7"/><circle cx="605.6" cy="121.0" r="1.7"/><circle cx="616.7" cy="122.8" r="1.7"/><circle cx="599.0" cy="123.3" r="1.7"/><circle cx="600.9" cy="124.8" r="1.7"/><circle cx="602.7" cy="126.4" r="1.7"/><circle cx="599.3" cy="127.0" r="1.7"/><circle cx="614.5" cy="126.6" r="1.7"/><circle cx="618.3" cy="129.1" r="1.7"/><circle cx="631.6" cy="127.2" r="1.7"/><circle cx="604.9" cy="131.8" r="1.7"/><circle cx="607.8" cy="132.2" r="1.7"/><circle cx="608.2" cy="134.9" r="1.7"/><circle cx="615.2" cy="133.6" r="1.7"/><circle cx="631.6" cy="133.6" r="1.7"/><circle cx="623.6" cy="140.4" r="1.7"/><circle cx="638.8" cy="143.9" r="1.7"/><circle cx="583.7" cy="146.6" r="1.7"/><circle cx="611.4" cy="150.6" r="1.7"/><circle cx="613.2" cy="149.8" r="1.7"/><circle cx="617.9" cy="147.8" r="1.7"/><circle cx="660.9" cy="144.0" r="1.7"/><circle cx="619.8" cy="167.2" r="1.7"/><circle cx="676.1" cy="129.4" r="1.7"/></g>
<g fill="#f2000c"><circle cx="177.6" cy="208.2" r="1.7"/><circle cx="156.5" cy="219.5" r="1.7"/><circle cx="162.5" cy="229.7" r="1.7"/><circle cx="138.5" cy="235.7" r="1.7"/><circle cx="128.8" cy="238.7" r="1.7"/><circle cx="131.7" cy="239.5" r="1.7"/><circle cx="132.1" cy="241.8" r="1.7"/><circle cx="133.9" cy="243.6" r="1.7"/><circle cx="135.8" cy="245.4" r="1.7"/><circle cx="137.6" cy="241.4" r="1.7"/><circle cx="144.3" cy="241.6" r="1.7"/><circle cx="143.5" cy="242.6" r="1.7"/><circle cx="121.3" cy="245.4" r="1.7"/><circle cx="117.2" cy="247.1" r="1.7"/><circle cx="120.0" cy="249.5" r="1.7"/><circle cx="120.3" cy="251.3" r="1.7"/><circle cx="121.4" cy="253.1" r="1.7"/><circle cx="124.7" cy="249.7" r="1.7"/><circle cx="125.8" cy="250.2" r="1.7"/><circle cx="132.8" cy="250.8" r="1.7"/><circle cx="139.3" cy="250.6" r="1.7"/><circle cx="140.2" cy="253.5" r="1.7"/><circle cx="114.2" cy="249.8" r="1.7"/><circle cx="112.2" cy="251.7" r="1.7"/><circle cx="107.1" cy="252.4" r="1.7"/><circle cx="109.7" cy="253.5" r="1.7"/><circle cx="112.6" cy="254.2" r="1.7"/><circle cx="115.6" cy="255.0" r="1.7"/><circle cx="109.7" cy="255.7" r="1.7"/><circle cx="117.0" cy="256.4" r="1.7"/><circle cx="113.4" cy="256.8" r="1.7"/><circle cx="119.2" cy="257.9" r="1.7"/><circle cx="110.8" cy="258.3" r="1.7"/><circle cx="129.5" cy="256.4" r="1.7"/><circle cx="104.2" cy="257.5" r="1.7"/><circle cx="102.0" cy="258.5" r="1.7"/><circle cx="136.3" cy="259.8" r="1.7"/><circle cx="140.5" cy="261.6" r="1.7"/><circle cx="143.1" cy="261.0" r="1.7"/><circle cx="125.5" cy="259.2" r="1.7"/><circle cx="126.2" cy="260.7" r="1.7"/><circle cx="133.2" cy="268.8" r="1.7"/><circle cx="132.4" cy="271.7" r="1.7"/><circle cx="128.6" cy="273.9" r="1.7"/><circle cx="117.2" cy="272.6" r="1.7"/><circle cx="119.2" cy="277.2" r="1.7"/><circle cx="120.7" cy="276.1" r="1.7"/><circle cx="121.8" cy="278.3" r="1.7"/><circle cx="112.6" cy="272.8" r="1.7"/><circle cx="113.7" cy="275.4" r="1.7"/><circle cx="113.4" cy="277.9" r="1.7"/><circle cx="111.9" cy="279.4" r="1.7"/><circle cx="121.4" cy="263.2" r="1.7"/><circle cx="124.4" cy="264.3" r="1.7"/><circle cx="122.5" cy="265.8" r="1.7"/><circle cx="124.4" cy="267.6" r="1.7"/><circle cx="102.3" cy="259.9" r="1.7"/><circle cx="117.0" cy="258.8" r="1.7"/><circle cx="119.6" cy="258.8" r="1.7"/><circle cx="101.6" cy="261.4" r="1.7"/><circle cx="104.5" cy="262.5" r="1.7"/><circle cx="106.8" cy="263.6" r="1.7"/><circle cx="111.5" cy="262.1" r="1.7"/><circle cx="114.8" cy="261.4" r="1.7"/><circle cx="117.8" cy="262.5" r="1.7"/><circle cx="97.2" cy="264.7" r="1.7"/><circle cx="100.1" cy="265.4" r="1.7"/><circle cx="103.1" cy="266.5" r="1.7"/><circle cx="106.0" cy="266.2" r="1.7"/><circle cx="109.0" cy="266.2" r="1.7"/><circle cx="111.9" cy="266.5" r="1.7"/><circle cx="114.5" cy="265.1" r="1.7"/><circle cx="117.0" cy="264.3" r="1.7"/><circle cx="96.5" cy="267.6" r="1.7"/><circle cx="99.0" cy="268.8" r="1.7"/><circle cx="102.0" cy="269.1" r="1.7"/><circle cx="105.3" cy="268.8" r="1.7"/><circle cx="108.6" cy="269.1" r="1.7"/><circle cx="111.9" cy="269.1" r="1.7"/><circle cx="114.5" cy="267.3" r="1.7"/><circle cx="95.7" cy="270.6" r="1.7"/><circle cx="98.7" cy="270.9" r="1.7"/><circle cx="105.3" cy="272.8" r="1.7"/><circle cx="107.8" cy="274.6" r="1.7"/><circle cx="102.3" cy="274.2" r="1.7"/><circle cx="99.4" cy="273.5" r="1.7"/><circle cx="96.5" cy="274.6" r="1.7"/><circle cx="106.8" cy="276.8" r="1.7"/><circle cx="103.8" cy="277.9" r="1.7"/><circle cx="101.2" cy="276.8" r="1.7"/><circle cx="97.9" cy="276.8" r="1.7"/><circle cx="95.7" cy="278.3" r="1.7"/><circle cx="106.0" cy="279.0" r="1.7"/><circle cx="103.1" cy="279.8" r="1.7"/><circle cx="100.1" cy="280.5" r="1.7"/><circle cx="97.2" cy="280.5" r="1.7"/><circle cx="104.5" cy="282.3" r="1.7"/><circle cx="101.6" cy="282.7" r="1.7"/><circle cx="95.7" cy="282.7" r="1.7"/><circle cx="92.0" cy="267.3" r="1.7"/><circle cx="94.6" cy="266.2" r="1.7"/><circle cx="87.6" cy="271.7" r="1.7"/><circle cx="90.5" cy="273.1" r="1.7"/><circle cx="93.5" cy="273.9" r="1.7"/><circle cx="82.8" cy="274.2" r="1.7"/><circle cx="79.5" cy="276.5" r="1.7"/><circle cx="77.3" cy="278.3" r="1.7"/><circle cx="81.7" cy="278.3" r="1.7"/><circle cx="85.4" cy="276.1" r="1.7"/><circle cx="84.7" cy="279.0" r="1.7"/><circle cx="89.8" cy="276.8" r="1.7"/><circle cx="92.7" cy="278.3" r="1.7"/><circle cx="74.7" cy="281.6" r="1.7"/><circle cx="79.1" cy="281.6" r="1.7"/><circle cx="83.2" cy="282.0" r="1.7"/><circle cx="86.1" cy="282.3" r="1.7"/><circle cx="90.5" cy="281.2" r="1.7"/><circle cx="94.2" cy="281.2" r="1.7"/><circle cx="65.4" cy="287.3" r="1.7"/><circle cx="63.6" cy="291.3" r="1.7"/><circle cx="61.7" cy="296.1" r="1.7"/><circle cx="51.1" cy="300.3" r="1.7"/><circle cx="56.5" cy="300.1" r="1.7"/><circle cx="59.0" cy="302.5" r="1.7"/><circle cx="62.8" cy="304.3" r="1.7"/><circle cx="55.1" cy="309.3" r="1.7"/><circle cx="67.0" cy="293.9" r="1.7"/><circle cx="67.4" cy="296.5" r="1.7"/><circle cx="68.1" cy="299.1" r="1.7"/><circle cx="71.1" cy="286.2" r="1.7"/><circle cx="73.6" cy="285.5" r="1.7"/><circle cx="75.5" cy="287.7" r="1.7"/><circle cx="71.1" cy="289.9" r="1.7"/><circle cx="73.3" cy="292.1" r="1.7"/><circle cx="76.2" cy="289.9" r="1.7"/><circle cx="76.6" cy="292.4" r="1.7"/><circle cx="75.1" cy="298.3" r="1.7"/><circle cx="79.1" cy="296.1" r="1.7"/><circle cx="81.3" cy="295.0" r="1.7"/><circle cx="79.4" cy="298.7" r="1.7"/><circle cx="81.7" cy="288.0" r="1.7"/><circle cx="83.2" cy="289.5" r="1.7"/><circle cx="87.2" cy="286.6" r="1.7"/><circle cx="89.8" cy="285.5" r="1.7"/><circle cx="92.7" cy="285.1" r="1.7"/><circle cx="91.6" cy="288.4" r="1.7"/><circle cx="92.0" cy="291.3" r="1.7"/><circle cx="86.1" cy="292.4" r="1.7"/><circle cx="87.6" cy="294.3" r="1.7"/><circle cx="89.4" cy="295.0" r="1.7"/><circle cx="91.6" cy="295.4" r="1.7"/><circle cx="85.2" cy="299.8" r="1.7"/><circle cx="87.6" cy="299.4" r="1.7"/><circle cx="90.2" cy="299.8" r="1.7"/><circle cx="89.0" cy="301.2" r="1.7"/><circle cx="83.5" cy="302.0" r="1.7"/><circle cx="94.9" cy="299.8" r="1.7"/><circle cx="94.2" cy="303.1" r="1.7"/><circle cx="92.7" cy="304.9" r="1.7"/><circle cx="79.5" cy="304.2" r="1.7"/><circle cx="80.2" cy="306.0" r="1.7"/><circle cx="81.7" cy="308.6" r="1.7"/><circle cx="79.5" cy="310.1" r="1.7"/><circle cx="76.9" cy="311.5" r="1.7"/><circle cx="68.5" cy="307.9" r="1.7"/><circle cx="72.2" cy="310.4" r="1.7"/><circle cx="69.2" cy="312.6" r="1.7"/><circle cx="86.3" cy="311.2" r="1.7"/><circle cx="130.5" cy="293.8" r="1.7"/><circle cx="113.9" cy="286.9" r="1.7"/><circle cx="116.9" cy="288.6" r="1.7"/><circle cx="113.2" cy="293.9" r="1.7"/><circle cx="115.4" cy="296.5" r="1.7"/><circle cx="112.5" cy="298.1" r="1.7"/><circle cx="117.5" cy="304.3" r="1.7"/><circle cx="112.6" cy="309.6" r="1.7"/><circle cx="98.3" cy="311.5" r="1.7"/><circle cx="101.1" cy="301.0" r="1.7"/><circle cx="95.7" cy="300.5" r="1.7"/><circle cx="97.2" cy="302.4" r="1.7"/><circle cx="99.8" cy="294.6" r="1.7"/><circle cx="96.8" cy="296.1" r="1.7"/><circle cx="97.2" cy="289.1" r="1.7"/><circle cx="98.3" cy="291.3" r="1.7"/><circle cx="99.4" cy="284.7" r="1.7"/><circle cx="102.0" cy="286.6" r="1.7"/><circle cx="102.3" cy="284.7" r="1.7"/><circle cx="72.5" cy="315.0" r="1.7"/><circle cx="76.2" cy="316.1" r="1.7"/><circle cx="75.8" cy="312.8" r="1.7"/><circle cx="91.6" cy="313.6" r="1.7"/><circle cx="61.7" cy="320.4" r="1.7"/><circle cx="51.8" cy="322.8" r="1.7"/><circle cx="54.9" cy="326.4" r="1.7"/><circle cx="54.2" cy="329.9" r="1.7"/><circle cx="53.8" cy="333.4" r="1.7"/><circle cx="57.9" cy="333.9" r="1.7"/><circle cx="71.1" cy="335.8" r="1.7"/><circle cx="80.8" cy="327.3" r="1.7"/><circle cx="82.8" cy="329.4" r="1.7"/><circle cx="86.5" cy="324.4" r="1.7"/><circle cx="93.7" cy="325.2" r="1.7"/><circle cx="102.3" cy="316.1" r="1.7"/><circle cx="112.5" cy="326.6" r="1.7"/><circle cx="114.7" cy="337.8" r="1.7"/><circle cx="138.3" cy="335.1" r="1.7"/><circle cx="57.7" cy="347.6" r="1.7"/><circle cx="50.9" cy="349.4" r="1.7"/><circle cx="57.7" cy="360.3" r="1.7"/><circle cx="78.4" cy="366.0" r="1.7"/><circle cx="96.5" cy="265.8" r="1.7"/><circle cx="98.7" cy="267.3" r="1.7"/><circle cx="101.6" cy="268.0" r="1.7"/><circle cx="104.5" cy="267.6" r="1.7"/><circle cx="107.5" cy="267.3" r="1.7"/><circle cx="110.4" cy="268.0" r="1.7"/><circle cx="113.4" cy="266.2" r="1.7"/><circle cx="116.3" cy="265.8" r="1.7"/><circle cx="117.8" cy="260.7" r="1.7"/><circle cx="103.8" cy="265.1" r="1.7"/><circle cx="99.4" cy="264.3" r="1.7"/><circle cx="95.0" cy="267.3" r="1.7"/><circle cx="95.0" cy="275.4" r="1.7"/><circle cx="95.0" cy="280.5" r="1.7"/><circle cx="97.9" cy="282.0" r="1.7"/><circle cx="100.1" cy="278.3" r="1.7"/><circle cx="105.3" cy="276.1" r="1.7"/><circle cx="96.5" cy="284.9" r="1.7"/><circle cx="110.8" cy="257.7" r="1.7"/><circle cx="100.5" cy="259.9" r="1.7"/><circle cx="81.0" cy="277.2" r="1.7"/><circle cx="78.4" cy="279.8" r="1.7"/><circle cx="82.4" cy="280.5" r="1.7"/><circle cx="85.0" cy="277.6" r="1.7"/><circle cx="88.3" cy="274.2" r="1.7"/><circle cx="92.0" cy="275.4" r="1.7"/><circle cx="91.3" cy="279.0" r="1.7"/><circle cx="89.0" cy="282.0" r="1.7"/><circle cx="93.5" cy="279.8" r="1.7"/><circle cx="92.0" cy="282.7" r="1.7"/><circle cx="94.9" cy="282.7" r="1.7"/><circle cx="94.9" cy="277.6" r="1.7"/><circle cx="94.9" cy="271.7" r="1.7"/><circle cx="83.2" cy="283.4" r="1.7"/><circle cx="112.0" cy="257.0" r="1.7"/><circle cx="108.3" cy="260.7" r="1.7"/><circle cx="102.5" cy="262.9" r="1.7"/><circle cx="98.0" cy="264.4" r="1.7"/><circle cx="105.4" cy="265.1" r="1.7"/><circle cx="115.7" cy="262.9" r="1.7"/><circle cx="118.6" cy="259.2" r="1.7"/><circle cx="114.2" cy="254.1" r="1.7"/><circle cx="76.0" cy="287.9" r="1.7"/><circle cx="70.2" cy="284.9" r="1.7"/><circle cx="81.9" cy="284.9" r="1.7"/><circle cx="79.0" cy="280.5" r="1.7"/><circle cx="86.3" cy="282.0" r="1.7"/><circle cx="90.7" cy="286.4" r="1.7"/><circle cx="87.8" cy="276.1" r="1.7"/><circle cx="83.4" cy="277.6" r="1.7"/><circle cx="95.8" cy="269.5" r="1.7"/><circle cx="92.2" cy="272.4" r="1.7"/><circle cx="99.5" cy="275.4" r="1.7"/><circle cx="109.8" cy="269.5" r="1.7"/></g>
<g fill="#f2000c"><circle cx="322.7" cy="216.8" r="1.7"/><circle cx="343.8" cy="224.4" r="1.7"/><circle cx="328.5" cy="238.6" r="1.7"/><circle cx="217.3" cy="213.4" r="1.7"/><circle cx="231.6" cy="210.7" r="1.7"/><circle cx="229.7" cy="215.0" r="1.7"/><circle cx="222.7" cy="219.5" r="1.7"/><circle cx="227.9" cy="219.7" r="1.7"/><circle cx="232.5" cy="222.1" r="1.7"/><circle cx="233.9" cy="223.7" r="1.7"/><circle cx="237.0" cy="220.8" r="1.7"/><circle cx="225.3" cy="226.3" r="1.7"/><circle cx="233.7" cy="227.6" r="1.7"/><circle cx="221.4" cy="231.3" r="1.7"/><circle cx="234.3" cy="231.3" r="1.7"/><circle cx="239.1" cy="226.9" r="1.7"/><circle cx="242.7" cy="226.9" r="1.7"/><circle cx="242.4" cy="229.8" r="1.7"/><circle cx="243.1" cy="231.6" r="1.7"/><circle cx="237.2" cy="215.5" r="1.7"/><circle cx="239.1" cy="217.3" r="1.7"/><circle cx="240.9" cy="214.0" r="1.7"/><circle cx="243.1" cy="212.2" r="1.7"/><circle cx="245.7" cy="211.1" r="1.7"/><circle cx="249.0" cy="211.8" r="1.7"/><circle cx="247.5" cy="214.8" r="1.7"/><circle cx="245.3" cy="218.4" r="1.7"/><circle cx="249.0" cy="216.2" r="1.7"/><circle cx="251.2" cy="217.7" r="1.7"/><circle cx="240.9" cy="220.2" r="1.7"/><circle cx="241.3" cy="222.5" r="1.7"/><circle cx="249.7" cy="221.0" r="1.7"/><circle cx="249.0" cy="223.6" r="1.7"/><circle cx="250.8" cy="225.8" r="1.7"/><circle cx="253.0" cy="214.8" r="1.7"/><circle cx="254.8" cy="213.3" r="1.7"/><circle cx="257.1" cy="212.2" r="1.7"/><circle cx="259.6" cy="213.3" r="1.7"/><circle cx="261.8" cy="214.4" r="1.7"/><circle cx="260.7" cy="216.2" r="1.7"/><circle cx="257.1" cy="218.4" r="1.7"/><circle cx="255.6" cy="220.6" r="1.7"/><circle cx="257.8" cy="221.4" r="1.7"/><circle cx="260.0" cy="223.6" r="1.7"/><circle cx="262.9" cy="221.4" r="1.7"/><circle cx="253.4" cy="228.7" r="1.7"/><circle cx="256.3" cy="228.3" r="1.7"/><circle cx="258.5" cy="230.2" r="1.7"/><circle cx="261.5" cy="227.2" r="1.7"/><circle cx="260.0" cy="225.8" r="1.7"/><circle cx="262.9" cy="225.0" r="1.7"/><circle cx="257.1" cy="231.6" r="1.7"/><circle cx="260.7" cy="231.3" r="1.7"/><circle cx="247.9" cy="230.9" r="1.7"/><circle cx="273.3" cy="207.8" r="1.7"/><circle cx="275.9" cy="210.3" r="1.7"/><circle cx="279.9" cy="212.5" r="1.7"/><circle cx="283.6" cy="211.8" r="1.7"/><circle cx="287.6" cy="214.4" r="1.7"/><circle cx="295.3" cy="213.3" r="1.7"/><circle cx="304.7" cy="219.7" r="1.7"/><circle cx="298.1" cy="217.3" r="1.7"/><circle cx="297.5" cy="220.2" r="1.7"/><circle cx="300.1" cy="222.5" r="1.7"/><circle cx="299.7" cy="226.5" r="1.7"/><circle cx="303.8" cy="227.2" r="1.7"/><circle cx="302.3" cy="230.2" r="1.7"/><circle cx="285.8" cy="218.4" r="1.7"/><circle cx="286.5" cy="220.6" r="1.7"/><circle cx="290.5" cy="223.2" r="1.7"/><circle cx="292.0" cy="225.8" r="1.7"/><circle cx="287.6" cy="225.0" r="1.7"/><circle cx="267.0" cy="211.8" r="1.7"/><circle cx="270.0" cy="211.4" r="1.7"/><circle cx="272.5" cy="213.3" r="1.7"/><circle cx="275.1" cy="214.8" r="1.7"/><circle cx="270.3" cy="215.8" r="1.7"/><circle cx="264.1" cy="214.8" r="1.7"/><circle cx="265.2" cy="217.3" r="1.7"/><circle cx="267.4" cy="219.9" r="1.7"/><circle cx="264.5" cy="221.4" r="1.7"/><circle cx="265.9" cy="223.6" r="1.7"/><circle cx="263.7" cy="225.8" r="1.7"/><circle cx="272.5" cy="221.7" r="1.7"/><circle cx="276.9" cy="219.2" r="1.7"/><circle cx="279.1" cy="217.3" r="1.7"/><circle cx="280.6" cy="219.9" r="1.7"/><circle cx="279.5" cy="222.5" r="1.7"/><circle cx="282.1" cy="223.6" r="1.7"/><circle cx="283.9" cy="225.0" r="1.7"/><circle cx="270.3" cy="226.5" r="1.7"/><circle cx="273.3" cy="228.3" r="1.7"/><circle cx="276.2" cy="228.7" r="1.7"/><circle cx="279.5" cy="228.0" r="1.7"/><circle cx="272.9" cy="230.9" r="1.7"/><circle cx="275.5" cy="231.3" r="1.7"/><circle cx="285.8" cy="229.8" r="1.7"/><circle cx="283.6" cy="231.3" r="1.7"/><circle cx="265.2" cy="231.6" r="1.7"/><circle cx="229.2" cy="233.1" r="1.7"/><circle cx="242.7" cy="230.7" r="1.7"/><circle cx="249.5" cy="235.1" r="1.7"/><circle cx="241.3" cy="238.2" r="1.7"/><circle cx="245.3" cy="239.3" r="1.7"/><circle cx="247.9" cy="241.4" r="1.7"/><circle cx="245.3" cy="243.6" r="1.7"/><circle cx="252.3" cy="242.3" r="1.7"/><circle cx="234.7" cy="245.1" r="1.7"/><circle cx="218.1" cy="247.6" r="1.7"/><circle cx="221.1" cy="256.3" r="1.7"/><circle cx="227.9" cy="255.6" r="1.7"/><circle cx="235.8" cy="254.2" r="1.7"/><circle cx="238.3" cy="252.6" r="1.7"/><circle cx="245.7" cy="252.4" r="1.7"/><circle cx="246.4" cy="255.3" r="1.7"/><circle cx="249.7" cy="253.5" r="1.7"/><circle cx="251.6" cy="252.4" r="1.7"/><circle cx="253.4" cy="254.2" r="1.7"/><circle cx="254.1" cy="256.1" r="1.7"/><circle cx="256.3" cy="257.9" r="1.7"/><circle cx="257.6" cy="252.8" r="1.7"/><circle cx="253.4" cy="246.5" r="1.7"/><circle cx="255.2" cy="248.4" r="1.7"/><circle cx="257.8" cy="247.6" r="1.7"/><circle cx="262.6" cy="249.5" r="1.7"/><circle cx="253.0" cy="234.8" r="1.7"/><circle cx="254.8" cy="236.2" r="1.7"/><circle cx="257.1" cy="235.1" r="1.7"/><circle cx="258.9" cy="236.6" r="1.7"/><circle cx="259.3" cy="232.9" r="1.7"/><circle cx="261.8" cy="231.5" r="1.7"/><circle cx="262.2" cy="234.4" r="1.7"/><circle cx="262.6" cy="237.3" r="1.7"/><circle cx="260.7" cy="239.5" r="1.7"/><circle cx="258.5" cy="241.4" r="1.7"/><circle cx="257.1" cy="243.6" r="1.7"/><circle cx="262.2" cy="241.0" r="1.7"/><circle cx="242.0" cy="258.5" r="1.7"/><circle cx="302.3" cy="231.5" r="1.7"/><circle cx="299.0" cy="235.3" r="1.7"/><circle cx="309.6" cy="235.7" r="1.7"/><circle cx="311.8" cy="235.3" r="1.7"/><circle cx="296.0" cy="240.5" r="1.7"/><circle cx="305.4" cy="242.5" r="1.7"/><circle cx="306.3" cy="248.1" r="1.7"/><circle cx="302.5" cy="252.6" r="1.7"/><circle cx="288.2" cy="240.3" r="1.7"/><circle cx="291.6" cy="239.2" r="1.7"/><circle cx="292.7" cy="241.8" r="1.7"/><circle cx="290.2" cy="243.2" r="1.7"/><circle cx="287.6" cy="244.3" r="1.7"/><circle cx="291.5" cy="246.7" r="1.7"/><circle cx="290.4" cy="250.0" r="1.7"/><circle cx="278.8" cy="244.2" r="1.7"/><circle cx="280.2" cy="247.6" r="1.7"/><circle cx="279.9" cy="249.8" r="1.7"/><circle cx="283.2" cy="249.5" r="1.7"/><circle cx="278.1" cy="253.3" r="1.7"/><circle cx="280.6" cy="253.5" r="1.7"/><circle cx="264.5" cy="256.1" r="1.7"/><circle cx="271.1" cy="234.8" r="1.7"/><circle cx="268.5" cy="238.4" r="1.7"/><circle cx="273.6" cy="239.2" r="1.7"/><circle cx="266.7" cy="241.8" r="1.7"/><circle cx="273.3" cy="241.8" r="1.7"/><circle cx="270.3" cy="243.2" r="1.7"/><circle cx="274.4" cy="244.3" r="1.7"/><circle cx="265.2" cy="246.2" r="1.7"/><circle cx="268.9" cy="245.8" r="1.7"/><circle cx="272.5" cy="245.4" r="1.7"/><circle cx="270.3" cy="248.4" r="1.7"/><circle cx="271.4" cy="249.8" r="1.7"/><circle cx="268.5" cy="252.0" r="1.7"/><circle cx="264.1" cy="251.7" r="1.7"/><circle cx="267.8" cy="253.1" r="1.7"/><circle cx="264.5" cy="232.2" r="1.7"/><circle cx="267.4" cy="232.6" r="1.7"/><circle cx="264.1" cy="234.8" r="1.7"/><circle cx="274.8" cy="232.9" r="1.7"/><circle cx="276.6" cy="231.5" r="1.7"/><circle cx="276.2" cy="235.5" r="1.7"/><circle cx="278.4" cy="237.3" r="1.7"/><circle cx="278.8" cy="239.2" r="1.7"/><circle cx="281.0" cy="237.0" r="1.7"/><circle cx="282.5" cy="235.1" r="1.7"/><circle cx="284.7" cy="236.6" r="1.7"/><circle cx="282.1" cy="232.9" r="1.7"/><circle cx="285.0" cy="231.5" r="1.7"/><circle cx="286.5" cy="232.9" r="1.7"/><circle cx="220.3" cy="260.7" r="1.7"/><circle cx="220.0" cy="265.8" r="1.7"/><circle cx="224.0" cy="270.9" r="1.7"/><circle cx="217.3" cy="285.6" r="1.7"/><circle cx="238.7" cy="260.1" r="1.7"/><circle cx="241.3" cy="261.4" r="1.7"/><circle cx="245.3" cy="262.1" r="1.7"/><circle cx="247.9" cy="262.0" r="1.7"/><circle cx="242.4" cy="265.7" r="1.7"/><circle cx="252.4" cy="270.6" r="1.7"/><circle cx="257.8" cy="280.1" r="1.7"/><circle cx="255.6" cy="258.5" r="1.7"/><circle cx="262.6" cy="259.9" r="1.7"/><circle cx="261.5" cy="264.3" r="1.7"/><circle cx="258.5" cy="268.4" r="1.7"/><circle cx="260.0" cy="267.3" r="1.7"/><circle cx="262.9" cy="269.9" r="1.7"/><circle cx="266.1" cy="262.0" r="1.7"/><circle cx="285.0" cy="259.1" r="1.7"/><circle cx="287.2" cy="259.1" r="1.7"/><circle cx="288.0" cy="262.9" r="1.7"/><circle cx="280.2" cy="266.8" r="1.7"/><circle cx="294.6" cy="264.3" r="1.7"/><circle cx="298.6" cy="261.6" r="1.7"/><circle cx="299.7" cy="263.2" r="1.7"/><circle cx="298.4" cy="265.7" r="1.7"/><circle cx="306.8" cy="260.2" r="1.7"/><circle cx="309.5" cy="262.4" r="1.7"/><circle cx="267.3" cy="272.6" r="1.7"/><circle cx="283.0" cy="272.6" r="1.7"/><circle cx="279.3" cy="276.5" r="1.7"/><circle cx="278.6" cy="281.2" r="1.7"/><circle cx="281.5" cy="282.5" r="1.7"/><circle cx="264.5" cy="284.8" r="1.7"/><circle cx="224.2" cy="291.1" r="1.7"/><circle cx="237.2" cy="289.1" r="1.7"/><circle cx="247.3" cy="288.2" r="1.7"/><circle cx="249.0" cy="293.5" r="1.7"/><circle cx="252.8" cy="290.3" r="1.7"/><circle cx="259.8" cy="299.5" r="1.7"/><circle cx="268.5" cy="296.4" r="1.7"/><circle cx="279.0" cy="298.5" r="1.7"/><circle cx="283.6" cy="296.6" r="1.7"/><circle cx="296.8" cy="296.4" r="1.7"/><circle cx="223.7" cy="309.8" r="1.7"/><circle cx="278.6" cy="323.5" r="1.7"/><circle cx="244.6" cy="342.5" r="1.7"/><circle cx="280.7" cy="342.8" r="1.7"/><circle cx="304.3" cy="365.9" r="1.7"/><circle cx="265.2" cy="212.5" r="1.7"/><circle cx="268.5" cy="212.9" r="1.7"/><circle cx="266.7" cy="215.5" r="1.7"/><circle cx="267.4" cy="217.7" r="1.7"/><circle cx="269.6" cy="219.2" r="1.7"/><circle cx="266.3" cy="221.4" r="1.7"/><circle cx="268.5" cy="222.1" r="1.7"/><circle cx="264.5" cy="224.3" r="1.7"/><circle cx="267.0" cy="224.3" r="1.7"/><circle cx="277.7" cy="215.5" r="1.7"/><circle cx="276.2" cy="217.3" r="1.7"/><circle cx="278.4" cy="221.4" r="1.7"/><circle cx="281.4" cy="221.7" r="1.7"/><circle cx="280.6" cy="224.3" r="1.7"/><circle cx="282.8" cy="222.1" r="1.7"/><circle cx="277.7" cy="219.9" r="1.7"/><circle cx="271.8" cy="210.3" r="1.7"/><circle cx="274.0" cy="208.9" r="1.7"/><circle cx="277.7" cy="229.1" r="1.7"/><circle cx="271.1" cy="229.1" r="1.7"/><circle cx="244.1" cy="215.3" r="1.7"/><circle cx="248.5" cy="218.2" r="1.7"/><circle cx="254.4" cy="216.0" r="1.7"/><circle cx="252.9" cy="224.1" r="1.7"/><circle cx="260.2" cy="218.2" r="1.7"/><circle cx="263.2" cy="224.1" r="1.7"/><circle cx="256.6" cy="227.0" r="1.7"/><circle cx="261.7" cy="228.5" r="1.7"/><circle cx="251.4" cy="221.2" r="1.7"/><circle cx="267.6" cy="216.0" r="1.7"/><circle cx="273.5" cy="227.0" r="1.7"/><circle cx="269.1" cy="230.0" r="1.7"/></g>
<g fill="#f2000c"><circle cx="510.2" cy="208.2" r="1.7"/><circle cx="489.3" cy="219.1" r="1.7"/><circle cx="495.2" cy="231.2" r="1.7"/><circle cx="461.9" cy="232.8" r="1.7"/><circle cx="471.5" cy="234.2" r="1.7"/><circle cx="464.4" cy="238.3" r="1.7"/><circle cx="465.2" cy="240.8" r="1.7"/><circle cx="464.9" cy="242.7" r="1.7"/><circle cx="468.2" cy="243.8" r="1.7"/><circle cx="470.4" cy="241.6" r="1.7"/><circle cx="468.9" cy="246.4" r="1.7"/><circle cx="469.5" cy="248.8" r="1.7"/><circle cx="476.4" cy="240.5" r="1.7"/><circle cx="478.1" cy="241.9" r="1.7"/><circle cx="450.4" cy="241.4" r="1.7"/><circle cx="454.6" cy="242.3" r="1.7"/><circle cx="453.5" cy="244.5" r="1.7"/><circle cx="452.0" cy="246.4" r="1.7"/><circle cx="453.9" cy="248.6" r="1.7"/><circle cx="440.6" cy="244.9" r="1.7"/><circle cx="442.9" cy="246.0" r="1.7"/><circle cx="445.8" cy="244.2" r="1.7"/><circle cx="447.6" cy="245.6" r="1.7"/><circle cx="457.5" cy="249.3" r="1.7"/><circle cx="459.0" cy="248.2" r="1.7"/><circle cx="454.4" cy="252.4" r="1.7"/><circle cx="465.8" cy="252.4" r="1.7"/><circle cx="471.9" cy="254.8" r="1.7"/><circle cx="472.9" cy="256.6" r="1.7"/><circle cx="473.3" cy="259.0" r="1.7"/><circle cx="462.8" cy="259.6" r="1.7"/><circle cx="469.3" cy="260.5" r="1.7"/><circle cx="473.9" cy="266.6" r="1.7"/><circle cx="476.3" cy="268.4" r="1.7"/><circle cx="465.2" cy="273.0" r="1.7"/><circle cx="466.6" cy="273.4" r="1.7"/><circle cx="461.6" cy="278.9" r="1.7"/><circle cx="455.3" cy="263.1" r="1.7"/><circle cx="458.6" cy="262.3" r="1.7"/><circle cx="459.0" cy="264.5" r="1.7"/><circle cx="454.6" cy="267.0" r="1.7"/><circle cx="457.5" cy="269.3" r="1.7"/><circle cx="450.6" cy="276.7" r="1.7"/><circle cx="453.9" cy="278.1" r="1.7"/><circle cx="452.0" cy="280.3" r="1.7"/><circle cx="455.0" cy="281.4" r="1.7"/><circle cx="445.4" cy="280.7" r="1.7"/><circle cx="447.2" cy="279.6" r="1.7"/><circle cx="446.5" cy="281.8" r="1.7"/><circle cx="447.2" cy="273.7" r="1.7"/><circle cx="445.8" cy="271.5" r="1.7"/><circle cx="447.6" cy="265.3" r="1.7"/><circle cx="446.1" cy="267.5" r="1.7"/><circle cx="445.4" cy="269.3" r="1.7"/><circle cx="431.5" cy="259.0" r="1.7"/><circle cx="430.7" cy="262.3" r="1.7"/><circle cx="432.9" cy="264.5" r="1.7"/><circle cx="435.9" cy="264.5" r="1.7"/><circle cx="438.8" cy="265.3" r="1.7"/><circle cx="441.8" cy="266.0" r="1.7"/><circle cx="443.9" cy="266.8" r="1.7"/><circle cx="430.7" cy="266.8" r="1.7"/><circle cx="431.5" cy="269.3" r="1.7"/><circle cx="430.0" cy="271.9" r="1.7"/><circle cx="433.3" cy="266.8" r="1.7"/><circle cx="439.5" cy="268.2" r="1.7"/><circle cx="441.8" cy="268.9" r="1.7"/><circle cx="434.4" cy="272.2" r="1.7"/><circle cx="437.3" cy="272.6" r="1.7"/><circle cx="440.3" cy="272.6" r="1.7"/><circle cx="442.1" cy="274.1" r="1.7"/><circle cx="431.5" cy="274.1" r="1.7"/><circle cx="432.9" cy="276.3" r="1.7"/><circle cx="435.9" cy="275.6" r="1.7"/><circle cx="439.5" cy="275.9" r="1.7"/><circle cx="430.7" cy="277.8" r="1.7"/><circle cx="437.3" cy="278.5" r="1.7"/><circle cx="440.3" cy="278.9" r="1.7"/><circle cx="434.4" cy="281.4" r="1.7"/><circle cx="437.3" cy="282.2" r="1.7"/><circle cx="433.7" cy="282.9" r="1.7"/><circle cx="438.8" cy="281.1" r="1.7"/><circle cx="399.2" cy="280.6" r="1.7"/><circle cx="408.5" cy="276.3" r="1.7"/><circle cx="405.0" cy="281.8" r="1.7"/><circle cx="407.5" cy="280.7" r="1.7"/><circle cx="409.4" cy="282.9" r="1.7"/><circle cx="416.6" cy="268.6" r="1.7"/><circle cx="413.0" cy="270.4" r="1.7"/><circle cx="411.2" cy="272.2" r="1.7"/><circle cx="414.5" cy="273.0" r="1.7"/><circle cx="413.4" cy="277.0" r="1.7"/><circle cx="416.3" cy="275.6" r="1.7"/><circle cx="418.2" cy="273.4" r="1.7"/><circle cx="421.1" cy="269.7" r="1.7"/><circle cx="424.1" cy="268.9" r="1.7"/><circle cx="422.6" cy="271.9" r="1.7"/><circle cx="425.5" cy="271.1" r="1.7"/><circle cx="424.8" cy="262.3" r="1.7"/><circle cx="427.7" cy="261.6" r="1.7"/><circle cx="429.9" cy="263.8" r="1.7"/><circle cx="427.0" cy="264.5" r="1.7"/><circle cx="424.1" cy="264.5" r="1.7"/><circle cx="416.7" cy="279.2" r="1.7"/><circle cx="419.6" cy="280.0" r="1.7"/><circle cx="417.4" cy="282.2" r="1.7"/><circle cx="421.1" cy="282.9" r="1.7"/><circle cx="424.1" cy="275.6" r="1.7"/><circle cx="427.0" cy="274.8" r="1.7"/><circle cx="429.2" cy="273.4" r="1.7"/><circle cx="424.8" cy="278.5" r="1.7"/><circle cx="427.7" cy="279.2" r="1.7"/><circle cx="429.9" cy="277.0" r="1.7"/><circle cx="424.1" cy="281.4" r="1.7"/><circle cx="427.0" cy="282.9" r="1.7"/><circle cx="429.2" cy="281.8" r="1.7"/><circle cx="397.5" cy="286.0" r="1.7"/><circle cx="385.0" cy="293.8" r="1.7"/><circle cx="395.6" cy="292.4" r="1.7"/><circle cx="390.3" cy="295.6" r="1.7"/><circle cx="392.9" cy="297.3" r="1.7"/><circle cx="396.7" cy="300.4" r="1.7"/><circle cx="389.2" cy="306.1" r="1.7"/><circle cx="402.2" cy="306.4" r="1.7"/><circle cx="405.7" cy="309.0" r="1.7"/><circle cx="400.6" cy="290.8" r="1.7"/><circle cx="401.3" cy="293.4" r="1.7"/><circle cx="401.9" cy="295.6" r="1.7"/><circle cx="405.0" cy="283.1" r="1.7"/><circle cx="407.5" cy="282.7" r="1.7"/><circle cx="409.7" cy="284.2" r="1.7"/><circle cx="405.0" cy="285.3" r="1.7"/><circle cx="406.8" cy="288.2" r="1.7"/><circle cx="410.2" cy="289.3" r="1.7"/><circle cx="408.6" cy="294.9" r="1.7"/><circle cx="412.7" cy="294.5" r="1.7"/><circle cx="412.7" cy="297.1" r="1.7"/><circle cx="415.4" cy="292.6" r="1.7"/><circle cx="415.2" cy="286.4" r="1.7"/><circle cx="417.1" cy="288.6" r="1.7"/><circle cx="419.6" cy="292.3" r="1.7"/><circle cx="421.1" cy="294.9" r="1.7"/><circle cx="423.3" cy="295.9" r="1.7"/><circle cx="425.5" cy="294.9" r="1.7"/><circle cx="425.1" cy="291.9" r="1.7"/><circle cx="424.8" cy="289.3" r="1.7"/><circle cx="425.9" cy="286.8" r="1.7"/><circle cx="424.1" cy="282.7" r="1.7"/><circle cx="429.6" cy="284.9" r="1.7"/><circle cx="429.9" cy="287.1" r="1.7"/><circle cx="413.4" cy="301.5" r="1.7"/><circle cx="417.4" cy="301.8" r="1.7"/><circle cx="418.9" cy="301.8" r="1.7"/><circle cx="421.9" cy="300.0" r="1.7"/><circle cx="423.7" cy="300.0" r="1.7"/><circle cx="428.8" cy="299.2" r="1.7"/><circle cx="429.9" cy="300.4" r="1.7"/><circle cx="427.4" cy="304.4" r="1.7"/><circle cx="425.9" cy="307.0" r="1.7"/><circle cx="413.8" cy="305.1" r="1.7"/><circle cx="415.6" cy="307.7" r="1.7"/><circle cx="413.4" cy="309.5" r="1.7"/><circle cx="410.1" cy="310.6" r="1.7"/><circle cx="463.6" cy="302.8" r="1.7"/><circle cx="447.2" cy="290.2" r="1.7"/><circle cx="450.0" cy="290.6" r="1.7"/><circle cx="446.4" cy="295.2" r="1.7"/><circle cx="445.8" cy="300.4" r="1.7"/><circle cx="448.7" cy="300.2" r="1.7"/><circle cx="450.8" cy="307.5" r="1.7"/><circle cx="434.4" cy="302.8" r="1.7"/><circle cx="431.8" cy="291.2" r="1.7"/><circle cx="433.3" cy="292.3" r="1.7"/><circle cx="432.6" cy="285.3" r="1.7"/><circle cx="435.5" cy="286.8" r="1.7"/><circle cx="435.1" cy="289.0" r="1.7"/><circle cx="434.4" cy="282.4" r="1.7"/><circle cx="436.6" cy="282.7" r="1.7"/><circle cx="438.8" cy="282.4" r="1.7"/><circle cx="445.8" cy="310.8" r="1.7"/><circle cx="403.4" cy="312.4" r="1.7"/><circle cx="406.4" cy="314.5" r="1.7"/><circle cx="409.0" cy="316.0" r="1.7"/><circle cx="410.0" cy="318.0" r="1.7"/><circle cx="412.3" cy="310.5" r="1.7"/><circle cx="419.6" cy="313.8" r="1.7"/><circle cx="425.0" cy="313.0" r="1.7"/><circle cx="395.6" cy="320.6" r="1.7"/><circle cx="385.9" cy="321.9" r="1.7"/><circle cx="388.8" cy="323.7" r="1.7"/><circle cx="388.2" cy="328.5" r="1.7"/><circle cx="387.7" cy="331.0" r="1.7"/><circle cx="391.8" cy="331.6" r="1.7"/><circle cx="404.8" cy="337.1" r="1.7"/><circle cx="414.5" cy="328.8" r="1.7"/><circle cx="416.5" cy="329.2" r="1.7"/><circle cx="420.2" cy="325.7" r="1.7"/><circle cx="427.0" cy="326.4" r="1.7"/><circle cx="435.6" cy="319.7" r="1.7"/><circle cx="431.8" cy="315.0" r="1.7"/><circle cx="445.9" cy="331.4" r="1.7"/><circle cx="447.9" cy="342.6" r="1.7"/><circle cx="471.2" cy="341.2" r="1.7"/><circle cx="384.9" cy="347.7" r="1.7"/><circle cx="391.7" cy="347.1" r="1.7"/><circle cx="391.5" cy="362.2" r="1.7"/><circle cx="412.1" cy="365.8" r="1.7"/><circle cx="431.8" cy="260.9" r="1.7"/><circle cx="434.4" cy="267.1" r="1.7"/><circle cx="437.3" cy="267.1" r="1.7"/><circle cx="443.9" cy="264.5" r="1.7"/><circle cx="430.0" cy="268.9" r="1.7"/><circle cx="432.2" cy="271.5" r="1.7"/><circle cx="438.8" cy="270.8" r="1.7"/><circle cx="442.5" cy="271.5" r="1.7"/><circle cx="434.4" cy="274.5" r="1.7"/><circle cx="437.3" cy="275.6" r="1.7"/><circle cx="430.0" cy="275.6" r="1.7"/><circle cx="434.4" cy="278.5" r="1.7"/><circle cx="431.5" cy="280.0" r="1.7"/><circle cx="440.3" cy="277.0" r="1.7"/><circle cx="430.0" cy="282.2" r="1.7"/><circle cx="436.6" cy="280.3" r="1.7"/><circle cx="418.9" cy="275.6" r="1.7"/><circle cx="422.6" cy="274.5" r="1.7"/><circle cx="427.0" cy="272.6" r="1.7"/><circle cx="425.5" cy="277.0" r="1.7"/><circle cx="422.6" cy="280.7" r="1.7"/><circle cx="428.5" cy="280.3" r="1.7"/><circle cx="418.9" cy="281.1" r="1.7"/><circle cx="425.5" cy="266.8" r="1.7"/><circle cx="428.5" cy="263.1" r="1.7"/><circle cx="438.7" cy="250.0" r="1.7"/><circle cx="441.3" cy="250.7" r="1.7"/><circle cx="444.2" cy="251.1" r="1.7"/><circle cx="447.2" cy="250.3" r="1.7"/><circle cx="449.0" cy="251.8" r="1.7"/><circle cx="435.8" cy="252.5" r="1.7"/><circle cx="434.3" cy="254.8" r="1.7"/><circle cx="435.8" cy="256.9" r="1.7"/><circle cx="437.6" cy="258.8" r="1.7"/><circle cx="439.2" cy="261.0" r="1.7"/><circle cx="450.8" cy="254.0" r="1.7"/><circle cx="452.3" cy="256.6" r="1.7"/><circle cx="452.7" cy="259.5" r="1.7"/><circle cx="451.2" cy="261.7" r="1.7"/><circle cx="443.5" cy="254.8" r="1.7"/><circle cx="445.7" cy="256.6" r="1.7"/><circle cx="445.0" cy="259.1" r="1.7"/><circle cx="443.9" cy="261.4" r="1.7"/><circle cx="441.3" cy="263.2" r="1.7"/><circle cx="446.4" cy="263.2" r="1.7"/><circle cx="449.4" cy="262.8" r="1.7"/><circle cx="433.6" cy="253.7" r="1.7"/><circle cx="434.7" cy="258.1" r="1.7"/><circle cx="450.1" cy="256.6" r="1.7"/><circle cx="453.4" cy="258.1" r="1.7"/><circle cx="451.6" cy="252.5" r="1.7"/><circle cx="439.8" cy="249.5" r="1.7"/><circle cx="445.7" cy="251.2" r="1.7"/><circle cx="436.9" cy="259.9" r="1.7"/><circle cx="444.6" cy="254.0" r="1.7"/></g>
<g fill="#f2000c"><circle cx="654.9" cy="213.3" r="1.7"/><circle cx="676.2" cy="222.5" r="1.7"/><circle cx="660.9" cy="247.5" r="1.7"/><circle cx="548.5" cy="226.5" r="1.7"/><circle cx="562.8" cy="220.5" r="1.7"/><circle cx="561.1" cy="226.7" r="1.7"/><circle cx="572.4" cy="223.0" r="1.7"/><circle cx="568.5" cy="226.5" r="1.7"/><circle cx="570.7" cy="226.5" r="1.7"/><circle cx="570.3" cy="229.4" r="1.7"/><circle cx="572.2" cy="231.6" r="1.7"/><circle cx="575.1" cy="220.2" r="1.7"/><circle cx="577.3" cy="218.8" r="1.7"/><circle cx="577.3" cy="220.6" r="1.7"/><circle cx="580.6" cy="218.8" r="1.7"/><circle cx="585.4" cy="221.4" r="1.7"/><circle cx="579.1" cy="223.9" r="1.7"/><circle cx="577.7" cy="225.8" r="1.7"/><circle cx="584.3" cy="225.4" r="1.7"/><circle cx="579.5" cy="227.6" r="1.7"/><circle cx="581.7" cy="227.2" r="1.7"/><circle cx="582.4" cy="229.1" r="1.7"/><circle cx="576.6" cy="230.2" r="1.7"/><circle cx="578.4" cy="229.1" r="1.7"/><circle cx="588.3" cy="218.4" r="1.7"/><circle cx="590.5" cy="219.9" r="1.7"/><circle cx="592.7" cy="220.6" r="1.7"/><circle cx="594.9" cy="220.6" r="1.7"/><circle cx="592.0" cy="222.8" r="1.7"/><circle cx="592.7" cy="224.7" r="1.7"/><circle cx="587.6" cy="228.3" r="1.7"/><circle cx="589.8" cy="229.1" r="1.7"/><circle cx="589.0" cy="231.3" r="1.7"/><circle cx="586.1" cy="231.6" r="1.7"/><circle cx="594.6" cy="230.9" r="1.7"/><circle cx="604.9" cy="208.0" r="1.7"/><circle cx="606.4" cy="210.3" r="1.7"/><circle cx="608.1" cy="212.0" r="1.7"/><circle cx="615.3" cy="212.4" r="1.7"/><circle cx="610.8" cy="215.1" r="1.7"/><circle cx="612.6" cy="214.6" r="1.7"/><circle cx="619.5" cy="215.8" r="1.7"/><circle cx="626.9" cy="212.5" r="1.7"/><circle cx="636.7" cy="221.5" r="1.7"/><circle cx="630.0" cy="219.5" r="1.7"/><circle cx="629.5" cy="223.4" r="1.7"/><circle cx="630.6" cy="225.4" r="1.7"/><circle cx="632.1" cy="227.6" r="1.7"/><circle cx="622.3" cy="230.2" r="1.7"/><circle cx="617.0" cy="223.2" r="1.7"/><circle cx="618.5" cy="222.8" r="1.7"/><circle cx="618.5" cy="226.5" r="1.7"/><circle cx="598.3" cy="216.2" r="1.7"/><circle cx="600.1" cy="214.8" r="1.7"/><circle cx="602.0" cy="214.4" r="1.7"/><circle cx="603.4" cy="217.3" r="1.7"/><circle cx="606.4" cy="216.9" r="1.7"/><circle cx="607.1" cy="220.2" r="1.7"/><circle cx="600.9" cy="220.6" r="1.7"/><circle cx="601.6" cy="222.1" r="1.7"/><circle cx="596.1" cy="220.6" r="1.7"/><circle cx="596.8" cy="222.1" r="1.7"/><circle cx="610.0" cy="222.5" r="1.7"/><circle cx="611.1" cy="221.0" r="1.7"/><circle cx="612.6" cy="224.7" r="1.7"/><circle cx="611.9" cy="227.2" r="1.7"/><circle cx="613.4" cy="228.7" r="1.7"/><circle cx="613.7" cy="230.9" r="1.7"/><circle cx="611.1" cy="229.8" r="1.7"/><circle cx="608.2" cy="226.3" r="1.7"/><circle cx="602.7" cy="225.4" r="1.7"/><circle cx="599.0" cy="224.7" r="1.7"/><circle cx="599.4" cy="227.2" r="1.7"/><circle cx="598.7" cy="229.4" r="1.7"/><circle cx="596.5" cy="228.7" r="1.7"/><circle cx="595.7" cy="230.9" r="1.7"/><circle cx="599.4" cy="231.3" r="1.7"/><circle cx="604.4" cy="230.2" r="1.7"/><circle cx="553.8" cy="234.4" r="1.7"/><circle cx="559.2" cy="233.8" r="1.7"/><circle cx="563.7" cy="236.6" r="1.7"/><circle cx="565.2" cy="238.4" r="1.7"/><circle cx="568.4" cy="234.4" r="1.7"/><circle cx="572.3" cy="234.4" r="1.7"/><circle cx="572.2" cy="236.6" r="1.7"/><circle cx="581.7" cy="233.7" r="1.7"/><circle cx="580.2" cy="237.0" r="1.7"/><circle cx="582.4" cy="239.2" r="1.7"/><circle cx="556.4" cy="243.1" r="1.7"/><circle cx="564.8" cy="243.9" r="1.7"/><circle cx="570.5" cy="242.1" r="1.7"/><circle cx="574.0" cy="242.1" r="1.7"/><circle cx="574.1" cy="246.9" r="1.7"/><circle cx="579.4" cy="247.2" r="1.7"/><circle cx="565.4" cy="248.5" r="1.7"/><circle cx="552.3" cy="250.2" r="1.7"/><circle cx="560.3" cy="251.3" r="1.7"/><circle cx="580.8" cy="251.7" r="1.7"/><circle cx="572.5" cy="256.4" r="1.7"/><circle cx="576.6" cy="257.8" r="1.7"/><circle cx="579.1" cy="258.6" r="1.7"/><circle cx="584.6" cy="242.8" r="1.7"/><circle cx="586.9" cy="232.6" r="1.7"/><circle cx="591.6" cy="234.8" r="1.7"/><circle cx="591.3" cy="237.3" r="1.7"/><circle cx="592.7" cy="239.5" r="1.7"/><circle cx="589.8" cy="241.0" r="1.7"/><circle cx="587.6" cy="241.8" r="1.7"/><circle cx="594.2" cy="241.8" r="1.7"/><circle cx="588.3" cy="245.4" r="1.7"/><circle cx="589.8" cy="247.6" r="1.7"/><circle cx="592.7" cy="246.5" r="1.7"/><circle cx="594.9" cy="247.6" r="1.7"/><circle cx="589.8" cy="249.8" r="1.7"/><circle cx="592.7" cy="250.6" r="1.7"/><circle cx="584.6" cy="250.9" r="1.7"/><circle cx="586.5" cy="253.1" r="1.7"/><circle cx="589.8" cy="252.4" r="1.7"/><circle cx="594.2" cy="253.5" r="1.7"/><circle cx="592.7" cy="256.8" r="1.7"/><circle cx="590.5" cy="258.3" r="1.7"/><circle cx="594.9" cy="257.9" r="1.7"/><circle cx="631.6" cy="233.3" r="1.7"/><circle cx="635.9" cy="234.0" r="1.7"/><circle cx="634.1" cy="237.1" r="1.7"/><circle cx="633.5" cy="239.9" r="1.7"/><circle cx="634.6" cy="241.6" r="1.7"/><circle cx="630.8" cy="246.3" r="1.7"/><circle cx="642.0" cy="245.4" r="1.7"/><circle cx="643.8" cy="245.1" r="1.7"/><circle cx="637.4" cy="255.6" r="1.7"/><circle cx="627.8" cy="253.7" r="1.7"/><circle cx="619.2" cy="233.1" r="1.7"/><circle cx="623.6" cy="233.4" r="1.7"/><circle cx="611.9" cy="230.4" r="1.7"/><circle cx="613.7" cy="231.8" r="1.7"/><circle cx="615.6" cy="233.3" r="1.7"/><circle cx="596.5" cy="231.5" r="1.7"/><circle cx="598.7" cy="232.9" r="1.7"/><circle cx="596.5" cy="234.4" r="1.7"/><circle cx="602.3" cy="236.6" r="1.7"/><circle cx="601.2" cy="238.4" r="1.7"/><circle cx="604.2" cy="239.5" r="1.7"/><circle cx="606.0" cy="239.2" r="1.7"/><circle cx="609.3" cy="239.2" r="1.7"/><circle cx="611.9" cy="238.1" r="1.7"/><circle cx="596.5" cy="238.4" r="1.7"/><circle cx="595.0" cy="241.0" r="1.7"/><circle cx="617.4" cy="241.4" r="1.7"/><circle cx="618.1" cy="243.6" r="1.7"/><circle cx="614.1" cy="243.9" r="1.7"/><circle cx="613.4" cy="245.4" r="1.7"/><circle cx="603.8" cy="243.6" r="1.7"/><circle cx="606.0" cy="244.3" r="1.7"/><circle cx="608.2" cy="244.3" r="1.7"/><circle cx="605.6" cy="246.2" r="1.7"/><circle cx="596.5" cy="245.8" r="1.7"/><circle cx="599.4" cy="246.2" r="1.7"/><circle cx="602.3" cy="249.2" r="1.7"/><circle cx="595.7" cy="249.5" r="1.7"/><circle cx="607.1" cy="249.1" r="1.7"/><circle cx="608.6" cy="251.3" r="1.7"/><circle cx="610.8" cy="250.6" r="1.7"/><circle cx="613.4" cy="250.2" r="1.7"/><circle cx="615.9" cy="248.0" r="1.7"/><circle cx="616.7" cy="249.8" r="1.7"/><circle cx="610.8" cy="253.9" r="1.7"/><circle cx="600.3" cy="254.1" r="1.7"/><circle cx="605.5" cy="254.6" r="1.7"/><circle cx="604.9" cy="257.5" r="1.7"/><circle cx="620.0" cy="254.6" r="1.7"/><circle cx="623.3" cy="253.1" r="1.7"/><circle cx="624.0" cy="255.7" r="1.7"/><circle cx="621.1" cy="258.3" r="1.7"/><circle cx="619.2" cy="258.6" r="1.7"/><circle cx="598.3" cy="258.6" r="1.7"/><circle cx="549.3" cy="269.0" r="1.7"/><circle cx="565.9" cy="265.1" r="1.7"/><circle cx="559.2" cy="276.8" r="1.7"/><circle cx="552.1" cy="277.9" r="1.7"/><circle cx="551.5" cy="282.3" r="1.7"/><circle cx="567.0" cy="275.4" r="1.7"/><circle cx="569.6" cy="273.4" r="1.7"/><circle cx="577.3" cy="272.6" r="1.7"/><circle cx="577.7" cy="276.1" r="1.7"/><circle cx="581.3" cy="273.3" r="1.7"/><circle cx="583.2" cy="272.4" r="1.7"/><circle cx="585.4" cy="274.6" r="1.7"/><circle cx="586.1" cy="276.5" r="1.7"/><circle cx="587.6" cy="278.7" r="1.7"/><circle cx="589.0" cy="272.2" r="1.7"/><circle cx="570.3" cy="280.9" r="1.7"/><circle cx="573.3" cy="279.8" r="1.7"/><circle cx="572.5" cy="282.3" r="1.7"/><circle cx="576.9" cy="282.6" r="1.7"/><circle cx="579.1" cy="282.3" r="1.7"/><circle cx="573.6" cy="285.6" r="1.7"/><circle cx="576.7" cy="262.5" r="1.7"/><circle cx="579.3" cy="259.7" r="1.7"/><circle cx="583.5" cy="260.3" r="1.7"/><circle cx="588.7" cy="262.0" r="1.7"/><circle cx="589.8" cy="259.2" r="1.7"/><circle cx="592.0" cy="258.1" r="1.7"/><circle cx="585.0" cy="265.4" r="1.7"/><circle cx="586.9" cy="267.6" r="1.7"/><circle cx="589.4" cy="266.3" r="1.7"/><circle cx="594.2" cy="268.4" r="1.7"/><circle cx="594.6" cy="280.1" r="1.7"/><circle cx="593.1" cy="284.5" r="1.7"/><circle cx="638.3" cy="262.9" r="1.7"/><circle cx="634.4" cy="268.9" r="1.7"/><circle cx="623.3" cy="262.5" r="1.7"/><circle cx="622.2" cy="266.5" r="1.7"/><circle cx="610.4" cy="260.3" r="1.7"/><circle cx="611.9" cy="264.3" r="1.7"/><circle cx="611.9" cy="266.5" r="1.7"/><circle cx="615.0" cy="266.5" r="1.7"/><circle cx="610.0" cy="271.3" r="1.7"/><circle cx="612.2" cy="271.3" r="1.7"/><circle cx="617.0" cy="277.4" r="1.7"/><circle cx="618.9" cy="277.4" r="1.7"/><circle cx="619.8" cy="281.6" r="1.7"/><circle cx="626.6" cy="283.1" r="1.7"/><circle cx="630.6" cy="279.8" r="1.7"/><circle cx="631.7" cy="281.2" r="1.7"/><circle cx="630.4" cy="284.2" r="1.7"/><circle cx="638.8" cy="277.6" r="1.7"/><circle cx="641.5" cy="280.1" r="1.7"/><circle cx="611.9" cy="285.6" r="1.7"/><circle cx="597.6" cy="281.7" r="1.7"/><circle cx="596.3" cy="275.4" r="1.7"/><circle cx="600.9" cy="260.7" r="1.7"/><circle cx="603.1" cy="259.2" r="1.7"/><circle cx="604.9" cy="262.1" r="1.7"/><circle cx="606.6" cy="261.0" r="1.7"/><circle cx="597.2" cy="264.0" r="1.7"/><circle cx="599.8" cy="263.6" r="1.7"/><circle cx="600.9" cy="266.2" r="1.7"/><circle cx="603.1" cy="268.0" r="1.7"/><circle cx="599.8" cy="270.6" r="1.7"/><circle cx="595.7" cy="270.6" r="1.7"/><circle cx="595.0" cy="268.4" r="1.7"/><circle cx="551.2" cy="287.2" r="1.7"/><circle cx="555.3" cy="291.9" r="1.7"/><circle cx="583.7" cy="291.0" r="1.7"/><circle cx="589.8" cy="288.8" r="1.7"/><circle cx="591.6" cy="287.7" r="1.7"/><circle cx="594.6" cy="289.9" r="1.7"/><circle cx="589.3" cy="299.6" r="1.7"/><circle cx="548.3" cy="304.4" r="1.7"/><circle cx="555.3" cy="308.7" r="1.7"/><circle cx="568.5" cy="307.4" r="1.7"/><circle cx="578.4" cy="306.5" r="1.7"/><circle cx="584.3" cy="308.4" r="1.7"/><circle cx="580.6" cy="311.2" r="1.7"/><circle cx="594.9" cy="303.8" r="1.7"/><circle cx="614.7" cy="291.9" r="1.7"/><circle cx="611.1" cy="296.0" r="1.7"/><circle cx="610.4" cy="300.5" r="1.7"/><circle cx="613.2" cy="301.8" r="1.7"/><circle cx="598.7" cy="292.4" r="1.7"/><circle cx="591.3" cy="316.2" r="1.7"/><circle cx="600.0" cy="313.6" r="1.7"/><circle cx="610.5" cy="316.0" r="1.7"/><circle cx="615.6" cy="314.2" r="1.7"/><circle cx="628.7" cy="314.0" r="1.7"/><circle cx="554.9" cy="322.6" r="1.7"/><circle cx="610.5" cy="335.2" r="1.7"/><circle cx="576.1" cy="345.6" r="1.7"/><circle cx="612.5" cy="348.7" r="1.7"/><circle cx="636.2" cy="365.7" r="1.7"/><circle cx="612.3" cy="229.2" r="1.7"/><circle cx="614.0" cy="227.0" r="1.7"/><circle cx="613.7" cy="249.1" r="1.7"/><circle cx="581.4" cy="236.6" r="1.7"/><circle cx="593.5" cy="240.2" r="1.7"/></g>
</g>
</svg>
</body>
</html>
